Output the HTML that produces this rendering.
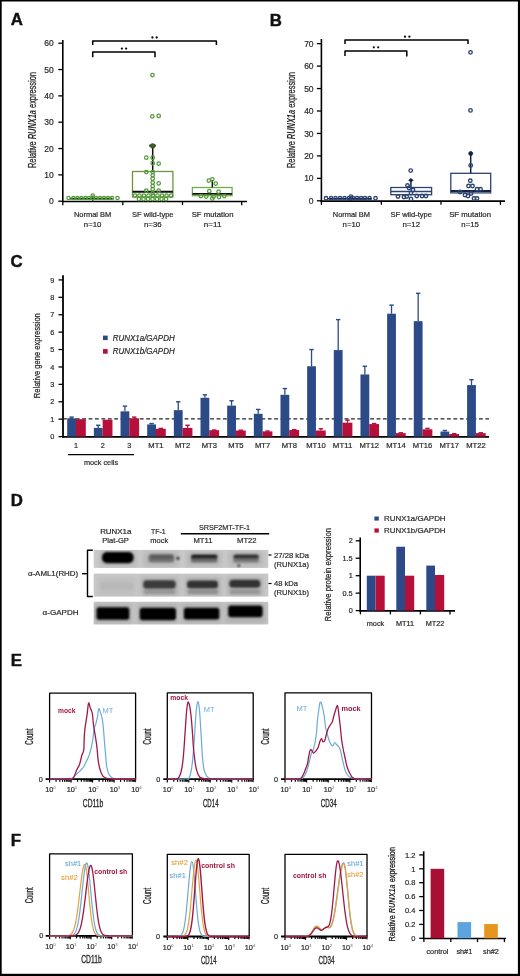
<!DOCTYPE html>
<html><head><meta charset="utf-8"><style>
html,body{margin:0;padding:0;background:#000;}
svg{display:block;font-family:"Liberation Sans",sans-serif;filter:blur(0.35px);}
</style></head><body>
<svg width="520" height="976" viewBox="0 0 520 976">
<rect x="0" y="0" width="520" height="976" fill="#000"/>
<rect x="1.7" y="1.5" width="516.2" height="972.3" fill="#fff"/>
<text x="10.80" y="25.25" font-size="16.8" text-anchor="start" fill="#111" font-weight="bold" font-style="normal" stroke="#111" stroke-width="0.45">A</text>
<text x="269.80" y="25.75" font-size="16.8" text-anchor="start" fill="#111" font-weight="bold" font-style="normal" stroke="#111" stroke-width="0.45">B</text>
<text x="10.60" y="266.75" font-size="16.8" text-anchor="start" fill="#111" font-weight="bold" font-style="normal" stroke="#111" stroke-width="0.45">C</text>
<text x="10.80" y="505.65" font-size="16.8" text-anchor="start" fill="#111" font-weight="bold" font-style="normal" stroke="#111" stroke-width="0.45">D</text>
<text x="10.80" y="666.35" font-size="16.8" text-anchor="start" fill="#111" font-weight="bold" font-style="normal" stroke="#111" stroke-width="0.45">E</text>
<text x="10.80" y="845.75" font-size="16.8" text-anchor="start" fill="#111" font-weight="bold" font-style="normal" stroke="#111" stroke-width="0.45">F</text>
<line x1="62.80" y1="40.00" x2="62.80" y2="202.00" stroke="#000" stroke-width="1.6" />
<line x1="58.30" y1="201.20" x2="62.80" y2="201.20" stroke="#000" stroke-width="1.3" />
<text x="53.80" y="204.26" font-size="8.5" text-anchor="end" fill="#2a2a2a" font-weight="normal" font-style="normal" stroke="#2a2a2a" stroke-width="0.2" >0</text>
<line x1="58.30" y1="174.87" x2="62.80" y2="174.87" stroke="#000" stroke-width="1.3" />
<text x="53.80" y="177.93" font-size="8.5" text-anchor="end" fill="#2a2a2a" font-weight="normal" font-style="normal" stroke="#2a2a2a" stroke-width="0.2" >10</text>
<line x1="58.30" y1="148.54" x2="62.80" y2="148.54" stroke="#000" stroke-width="1.3" />
<text x="53.80" y="151.60" font-size="8.5" text-anchor="end" fill="#2a2a2a" font-weight="normal" font-style="normal" stroke="#2a2a2a" stroke-width="0.2" >20</text>
<line x1="58.30" y1="122.21" x2="62.80" y2="122.21" stroke="#000" stroke-width="1.3" />
<text x="53.80" y="125.27" font-size="8.5" text-anchor="end" fill="#2a2a2a" font-weight="normal" font-style="normal" stroke="#2a2a2a" stroke-width="0.2" >30</text>
<line x1="58.30" y1="95.88" x2="62.80" y2="95.88" stroke="#000" stroke-width="1.3" />
<text x="53.80" y="98.94" font-size="8.5" text-anchor="end" fill="#2a2a2a" font-weight="normal" font-style="normal" stroke="#2a2a2a" stroke-width="0.2" >40</text>
<line x1="58.30" y1="69.55" x2="62.80" y2="69.55" stroke="#000" stroke-width="1.3" />
<text x="53.80" y="72.61" font-size="8.5" text-anchor="end" fill="#2a2a2a" font-weight="normal" font-style="normal" stroke="#2a2a2a" stroke-width="0.2" >50</text>
<line x1="58.30" y1="43.22" x2="62.80" y2="43.22" stroke="#000" stroke-width="1.3" />
<text x="53.80" y="46.28" font-size="8.5" text-anchor="end" fill="#2a2a2a" font-weight="normal" font-style="normal" stroke="#2a2a2a" stroke-width="0.2" >60</text>
<line x1="62.00" y1="201.50" x2="247.00" y2="201.50" stroke="#000" stroke-width="1.7" />
<line x1="62.80" y1="201.20" x2="62.80" y2="205.20" stroke="#000" stroke-width="1.3" />
<line x1="122.80" y1="201.20" x2="122.80" y2="205.20" stroke="#000" stroke-width="1.3" />
<line x1="182.50" y1="201.20" x2="182.50" y2="205.20" stroke="#000" stroke-width="1.3" />
<line x1="241.70" y1="201.20" x2="241.70" y2="205.20" stroke="#000" stroke-width="1.3" />
<text x="92.60" y="217.23" font-size="7.3" text-anchor="middle" fill="#2a2a2a" font-weight="normal" font-style="normal" stroke="#2a2a2a" stroke-width="0.2" textLength="37.3" lengthAdjust="spacingAndGlyphs" >Normal BM</text>
<text x="92.60" y="226.93" font-size="7.3" text-anchor="middle" fill="#2a2a2a" font-weight="normal" font-style="normal" stroke="#2a2a2a" stroke-width="0.2" textLength="17.6" lengthAdjust="spacingAndGlyphs" >n=10</text>
<text x="152.80" y="217.23" font-size="7.3" text-anchor="middle" fill="#2a2a2a" font-weight="normal" font-style="normal" stroke="#2a2a2a" stroke-width="0.2" textLength="41.5" lengthAdjust="spacingAndGlyphs" >SF wild-type</text>
<text x="152.80" y="226.93" font-size="7.3" text-anchor="middle" fill="#2a2a2a" font-weight="normal" font-style="normal" stroke="#2a2a2a" stroke-width="0.2" textLength="17.6" lengthAdjust="spacingAndGlyphs" >n=36</text>
<text x="212.60" y="217.23" font-size="7.3" text-anchor="middle" fill="#2a2a2a" font-weight="normal" font-style="normal" stroke="#2a2a2a" stroke-width="0.2" textLength="41.8" lengthAdjust="spacingAndGlyphs" >SF mutation</text>
<text x="212.60" y="226.93" font-size="7.3" text-anchor="middle" fill="#2a2a2a" font-weight="normal" font-style="normal" stroke="#2a2a2a" stroke-width="0.2" textLength="17.6" lengthAdjust="spacingAndGlyphs" >n=11</text>
<path d="M92.7,45 L92.7,41.1 L216.4,41.1 L216.4,45" fill="none" stroke="#000" stroke-width="1.5" stroke-linejoin="round" />
<path d="M92.7,57.2 L92.7,52 L155,52 L155,57.2" fill="none" stroke="#000" stroke-width="1.5" stroke-linejoin="round" />
<circle cx="152.4" cy="37.5" r="1.15" fill="#111"/><circle cx="156.7" cy="37.5" r="1.15" fill="#111"/>
<circle cx="121.9" cy="48.6" r="1.15" fill="#111"/><circle cx="126.1" cy="48.6" r="1.15" fill="#111"/>
<text transform="translate(35.9 120.1) rotate(-90)" font-size="10" text-anchor="middle" fill="#2a2a2a" stroke="#2a2a2a" stroke-width="0.3" textLength="96" lengthAdjust="spacingAndGlyphs">Relative <tspan font-style="italic" font-weight="bold" stroke-width="0">RUNX1a</tspan> expression</text>
<line x1="70.00" y1="198.60" x2="112.50" y2="198.60" stroke="#1a3010" stroke-width="1.6" />
<line x1="92.75" y1="195.50" x2="92.75" y2="201.00" stroke="#1a3010" stroke-width="1.2" />
<circle cx="68.50" cy="198.00" r="1.7" fill="none" stroke="#559a3a" stroke-width="1.2"/>
<circle cx="73.50" cy="198.00" r="1.7" fill="none" stroke="#559a3a" stroke-width="1.2"/>
<circle cx="77.50" cy="198.00" r="1.7" fill="none" stroke="#559a3a" stroke-width="1.2"/>
<circle cx="81.50" cy="198.00" r="1.7" fill="none" stroke="#559a3a" stroke-width="1.2"/>
<circle cx="85.50" cy="198.00" r="1.7" fill="none" stroke="#559a3a" stroke-width="1.2"/>
<circle cx="89.00" cy="198.00" r="1.7" fill="none" stroke="#559a3a" stroke-width="1.2"/>
<circle cx="92.70" cy="198.00" r="1.7" fill="none" stroke="#559a3a" stroke-width="1.2"/>
<circle cx="96.00" cy="198.00" r="1.7" fill="none" stroke="#559a3a" stroke-width="1.2"/>
<circle cx="100.00" cy="198.00" r="1.7" fill="none" stroke="#559a3a" stroke-width="1.2"/>
<circle cx="104.00" cy="198.00" r="1.7" fill="none" stroke="#559a3a" stroke-width="1.2"/>
<circle cx="108.00" cy="198.00" r="1.7" fill="none" stroke="#559a3a" stroke-width="1.2"/>
<circle cx="112.00" cy="198.00" r="1.7" fill="none" stroke="#559a3a" stroke-width="1.2"/>
<circle cx="117.50" cy="198.00" r="1.7" fill="none" stroke="#559a3a" stroke-width="1.2"/>
<circle cx="92.70" cy="195.50" r="1.7" fill="none" stroke="#559a3a" stroke-width="1.2"/>
<rect x="132.50" y="171.50" width="40.40" height="25.50" fill="none" stroke="#6b963f" stroke-width="1.3" />
<line x1="132.50" y1="191.70" x2="172.90" y2="191.70" stroke="#101010" stroke-width="2.0" />
<line x1="152.70" y1="145.60" x2="152.70" y2="171.50" stroke="#101010" stroke-width="1.5" />
<line x1="149.20" y1="145.60" x2="155.80" y2="145.60" stroke="#101010" stroke-width="1.8" />
<circle cx="152.70" cy="145.80" r="1.9" fill="#3d6a2a" stroke="#2f5520" stroke-width="1.4"/>
<circle cx="152.30" cy="116.40" r="1.75" fill="none" stroke="#559a3a" stroke-width="1.25"/>
<circle cx="158.70" cy="115.90" r="1.75" fill="none" stroke="#559a3a" stroke-width="1.25"/>
<circle cx="152.50" cy="75.00" r="1.75" fill="none" stroke="#559a3a" stroke-width="1.25"/>
<circle cx="146.30" cy="157.70" r="1.75" fill="none" stroke="#559a3a" stroke-width="1.25"/>
<circle cx="152.70" cy="157.70" r="1.75" fill="none" stroke="#559a3a" stroke-width="1.25"/>
<circle cx="152.70" cy="163.20" r="1.75" fill="none" stroke="#559a3a" stroke-width="1.25"/>
<circle cx="158.70" cy="163.50" r="1.75" fill="none" stroke="#559a3a" stroke-width="1.25"/>
<circle cx="146.30" cy="172.00" r="1.75" fill="none" stroke="#559a3a" stroke-width="1.25"/>
<circle cx="152.70" cy="172.00" r="1.75" fill="none" stroke="#559a3a" stroke-width="1.25"/>
<circle cx="152.70" cy="175.20" r="1.75" fill="none" stroke="#559a3a" stroke-width="1.25"/>
<circle cx="152.70" cy="178.70" r="1.75" fill="none" stroke="#559a3a" stroke-width="1.25"/>
<circle cx="152.70" cy="182.50" r="1.75" fill="none" stroke="#559a3a" stroke-width="1.25"/>
<circle cx="158.70" cy="183.30" r="1.75" fill="none" stroke="#559a3a" stroke-width="1.25"/>
<circle cx="152.70" cy="186.00" r="1.75" fill="none" stroke="#559a3a" stroke-width="1.25"/>
<circle cx="152.70" cy="189.00" r="1.75" fill="none" stroke="#559a3a" stroke-width="1.25"/>
<circle cx="146.30" cy="190.50" r="1.75" fill="none" stroke="#559a3a" stroke-width="1.25"/>
<circle cx="158.70" cy="190.50" r="1.75" fill="none" stroke="#559a3a" stroke-width="1.25"/>
<circle cx="135.00" cy="195.50" r="1.75" fill="none" stroke="#559a3a" stroke-width="1.25"/>
<circle cx="139.50" cy="195.50" r="1.75" fill="none" stroke="#559a3a" stroke-width="1.25"/>
<circle cx="144.00" cy="195.50" r="1.75" fill="none" stroke="#559a3a" stroke-width="1.25"/>
<circle cx="148.50" cy="195.50" r="1.75" fill="none" stroke="#559a3a" stroke-width="1.25"/>
<circle cx="153.00" cy="195.50" r="1.75" fill="none" stroke="#559a3a" stroke-width="1.25"/>
<circle cx="157.50" cy="195.50" r="1.75" fill="none" stroke="#559a3a" stroke-width="1.25"/>
<circle cx="162.00" cy="195.50" r="1.75" fill="none" stroke="#559a3a" stroke-width="1.25"/>
<circle cx="166.50" cy="195.50" r="1.75" fill="none" stroke="#559a3a" stroke-width="1.25"/>
<circle cx="171.00" cy="195.50" r="1.75" fill="none" stroke="#559a3a" stroke-width="1.25"/>
<circle cx="139.00" cy="199.00" r="1.75" fill="none" stroke="#559a3a" stroke-width="1.25"/>
<circle cx="143.50" cy="199.00" r="1.75" fill="none" stroke="#559a3a" stroke-width="1.25"/>
<circle cx="148.00" cy="199.00" r="1.75" fill="none" stroke="#559a3a" stroke-width="1.25"/>
<circle cx="152.50" cy="199.00" r="1.75" fill="none" stroke="#559a3a" stroke-width="1.25"/>
<circle cx="157.00" cy="199.00" r="1.75" fill="none" stroke="#559a3a" stroke-width="1.25"/>
<circle cx="161.50" cy="199.00" r="1.75" fill="none" stroke="#559a3a" stroke-width="1.25"/>
<circle cx="166.00" cy="199.00" r="1.75" fill="none" stroke="#559a3a" stroke-width="1.25"/>
<circle cx="152.70" cy="193.00" r="1.75" fill="none" stroke="#559a3a" stroke-width="1.25"/>
<rect x="192.40" y="187.50" width="39.70" height="8.20" fill="none" stroke="#6aae48" stroke-width="1.25" />
<line x1="192.40" y1="193.80" x2="232.10" y2="193.80" stroke="#101010" stroke-width="1.8" />
<line x1="212.30" y1="180.00" x2="212.30" y2="187.50" stroke="#101010" stroke-width="1.4" />
<circle cx="208.80" cy="180.60" r="1.75" fill="none" stroke="#559a3a" stroke-width="1.25"/>
<circle cx="212.30" cy="179.30" r="1.75" fill="none" stroke="#559a3a" stroke-width="1.25"/>
<circle cx="215.70" cy="183.50" r="1.75" fill="none" stroke="#559a3a" stroke-width="1.25"/>
<circle cx="209.30" cy="191.20" r="1.75" fill="none" stroke="#559a3a" stroke-width="1.25"/>
<circle cx="218.60" cy="191.70" r="1.75" fill="none" stroke="#559a3a" stroke-width="1.25"/>
<circle cx="200.90" cy="196.00" r="1.75" fill="none" stroke="#559a3a" stroke-width="1.25"/>
<circle cx="206.20" cy="196.50" r="1.75" fill="none" stroke="#559a3a" stroke-width="1.25"/>
<circle cx="213.60" cy="196.50" r="1.75" fill="none" stroke="#559a3a" stroke-width="1.25"/>
<circle cx="218.90" cy="197.00" r="1.75" fill="none" stroke="#559a3a" stroke-width="1.25"/>
<circle cx="224.20" cy="196.00" r="1.75" fill="none" stroke="#559a3a" stroke-width="1.25"/>
<circle cx="212.30" cy="198.60" r="1.75" fill="none" stroke="#559a3a" stroke-width="1.25"/>
<line x1="321.40" y1="39.00" x2="321.40" y2="201.60" stroke="#000" stroke-width="1.6" />
<line x1="316.90" y1="200.80" x2="321.40" y2="200.80" stroke="#000" stroke-width="1.3" />
<text x="313.60" y="203.86" font-size="8.5" text-anchor="end" fill="#2a2a2a" font-weight="normal" font-style="normal" stroke="#2a2a2a" stroke-width="0.2" >0</text>
<line x1="316.90" y1="178.35" x2="321.40" y2="178.35" stroke="#000" stroke-width="1.3" />
<text x="313.60" y="181.41" font-size="8.5" text-anchor="end" fill="#2a2a2a" font-weight="normal" font-style="normal" stroke="#2a2a2a" stroke-width="0.2" >10</text>
<line x1="316.90" y1="155.90" x2="321.40" y2="155.90" stroke="#000" stroke-width="1.3" />
<text x="313.60" y="158.96" font-size="8.5" text-anchor="end" fill="#2a2a2a" font-weight="normal" font-style="normal" stroke="#2a2a2a" stroke-width="0.2" >20</text>
<line x1="316.90" y1="133.45" x2="321.40" y2="133.45" stroke="#000" stroke-width="1.3" />
<text x="313.60" y="136.51" font-size="8.5" text-anchor="end" fill="#2a2a2a" font-weight="normal" font-style="normal" stroke="#2a2a2a" stroke-width="0.2" >30</text>
<line x1="316.90" y1="111.00" x2="321.40" y2="111.00" stroke="#000" stroke-width="1.3" />
<text x="313.60" y="114.06" font-size="8.5" text-anchor="end" fill="#2a2a2a" font-weight="normal" font-style="normal" stroke="#2a2a2a" stroke-width="0.2" >40</text>
<line x1="316.90" y1="88.55" x2="321.40" y2="88.55" stroke="#000" stroke-width="1.3" />
<text x="313.60" y="91.61" font-size="8.5" text-anchor="end" fill="#2a2a2a" font-weight="normal" font-style="normal" stroke="#2a2a2a" stroke-width="0.2" >50</text>
<line x1="316.90" y1="66.10" x2="321.40" y2="66.10" stroke="#000" stroke-width="1.3" />
<text x="313.60" y="69.16" font-size="8.5" text-anchor="end" fill="#2a2a2a" font-weight="normal" font-style="normal" stroke="#2a2a2a" stroke-width="0.2" >60</text>
<line x1="316.90" y1="43.65" x2="321.40" y2="43.65" stroke="#000" stroke-width="1.3" />
<text x="313.60" y="46.71" font-size="8.5" text-anchor="end" fill="#2a2a2a" font-weight="normal" font-style="normal" stroke="#2a2a2a" stroke-width="0.2" >70</text>
<line x1="320.60" y1="201.20" x2="505.00" y2="201.20" stroke="#000" stroke-width="1.7" />
<line x1="321.40" y1="200.80" x2="321.40" y2="204.80" stroke="#000" stroke-width="1.3" />
<line x1="381.30" y1="200.80" x2="381.30" y2="204.80" stroke="#000" stroke-width="1.3" />
<line x1="441.00" y1="200.80" x2="441.00" y2="204.80" stroke="#000" stroke-width="1.3" />
<line x1="500.40" y1="200.80" x2="500.40" y2="204.80" stroke="#000" stroke-width="1.3" />
<text x="351.40" y="217.23" font-size="7.3" text-anchor="middle" fill="#2a2a2a" font-weight="normal" font-style="normal" stroke="#2a2a2a" stroke-width="0.2" textLength="37.3" lengthAdjust="spacingAndGlyphs" >Normal BM</text>
<text x="351.40" y="226.93" font-size="7.3" text-anchor="middle" fill="#2a2a2a" font-weight="normal" font-style="normal" stroke="#2a2a2a" stroke-width="0.2" textLength="17.6" lengthAdjust="spacingAndGlyphs" >n=10</text>
<text x="411.20" y="217.23" font-size="7.3" text-anchor="middle" fill="#2a2a2a" font-weight="normal" font-style="normal" stroke="#2a2a2a" stroke-width="0.2" textLength="41.5" lengthAdjust="spacingAndGlyphs" >SF wild-type</text>
<text x="411.20" y="226.93" font-size="7.3" text-anchor="middle" fill="#2a2a2a" font-weight="normal" font-style="normal" stroke="#2a2a2a" stroke-width="0.2" textLength="17.6" lengthAdjust="spacingAndGlyphs" >n=12</text>
<text x="470.10" y="217.23" font-size="7.3" text-anchor="middle" fill="#2a2a2a" font-weight="normal" font-style="normal" stroke="#2a2a2a" stroke-width="0.2" textLength="41.8" lengthAdjust="spacingAndGlyphs" >SF mutation</text>
<text x="470.10" y="226.93" font-size="7.3" text-anchor="middle" fill="#2a2a2a" font-weight="normal" font-style="normal" stroke="#2a2a2a" stroke-width="0.2" textLength="17.6" lengthAdjust="spacingAndGlyphs" >n=15</text>
<path d="M345,44 L345,39.9 L468,39.9 L468,44" fill="none" stroke="#000" stroke-width="1.5" stroke-linejoin="round" />
<path d="M345,56 L345,50.9 L406.8,50.9 L406.8,56.5" fill="none" stroke="#000" stroke-width="1.5" stroke-linejoin="round" />
<circle cx="405" cy="36.7" r="1.15" fill="#111"/><circle cx="409.4" cy="36.7" r="1.15" fill="#111"/>
<circle cx="373.8" cy="47.3" r="1.15" fill="#111"/><circle cx="378.2" cy="47.3" r="1.15" fill="#111"/>
<text transform="translate(295.2 120) rotate(-90)" font-size="10" text-anchor="middle" fill="#2a2a2a" stroke="#2a2a2a" stroke-width="0.3" textLength="96" lengthAdjust="spacingAndGlyphs">Relative <tspan font-style="italic" font-weight="bold" stroke-width="0">RUNX1a</tspan> expression</text>
<line x1="328.00" y1="198.80" x2="372.00" y2="198.80" stroke="#15254a" stroke-width="1.6" />
<line x1="351.00" y1="196.00" x2="351.00" y2="201.00" stroke="#15254a" stroke-width="1.2" />
<circle cx="326.00" cy="198.20" r="1.7" fill="none" stroke="#2c4470" stroke-width="1.3"/>
<circle cx="331.00" cy="198.20" r="1.7" fill="none" stroke="#2c4470" stroke-width="1.3"/>
<circle cx="335.50" cy="198.20" r="1.7" fill="none" stroke="#2c4470" stroke-width="1.3"/>
<circle cx="340.00" cy="198.20" r="1.7" fill="none" stroke="#2c4470" stroke-width="1.3"/>
<circle cx="344.50" cy="198.20" r="1.7" fill="none" stroke="#2c4470" stroke-width="1.3"/>
<circle cx="349.00" cy="198.20" r="1.7" fill="none" stroke="#2c4470" stroke-width="1.3"/>
<circle cx="353.00" cy="198.20" r="1.7" fill="none" stroke="#2c4470" stroke-width="1.3"/>
<circle cx="357.00" cy="198.20" r="1.7" fill="none" stroke="#2c4470" stroke-width="1.3"/>
<circle cx="361.00" cy="198.20" r="1.7" fill="none" stroke="#2c4470" stroke-width="1.3"/>
<circle cx="365.00" cy="198.20" r="1.7" fill="none" stroke="#2c4470" stroke-width="1.3"/>
<circle cx="369.50" cy="198.20" r="1.7" fill="none" stroke="#2c4470" stroke-width="1.3"/>
<circle cx="375.50" cy="198.20" r="1.7" fill="none" stroke="#2c4470" stroke-width="1.3"/>
<circle cx="351.00" cy="196.50" r="1.7" fill="none" stroke="#2c4470" stroke-width="1.3"/>
<rect x="390.80" y="187.50" width="40.80" height="7.20" fill="none" stroke="#2c4470" stroke-width="1.3" />
<line x1="390.80" y1="191.60" x2="431.60" y2="191.60" stroke="#2c4470" stroke-width="1.5" />
<line x1="410.90" y1="180.20" x2="410.90" y2="187.50" stroke="#15254a" stroke-width="1.5" />
<path d="M410.9,177.9 L413.6,180.3 L410.9,182.6 L408.2,180.3 Z" fill="#15254a"/>
<circle cx="410.70" cy="170.60" r="1.75" fill="none" stroke="#2c4470" stroke-width="1.35"/>
<circle cx="407.50" cy="185.50" r="1.75" fill="none" stroke="#2c4470" stroke-width="1.35"/>
<circle cx="406.70" cy="196.50" r="1.75" fill="none" stroke="#2c4470" stroke-width="1.35"/>
<circle cx="416.70" cy="196.00" r="1.75" fill="none" stroke="#2c4470" stroke-width="1.35"/>
<circle cx="404.00" cy="197.00" r="1.75" fill="none" stroke="#2c4470" stroke-width="1.35"/>
<circle cx="398.00" cy="196.50" r="1.75" fill="none" stroke="#2c4470" stroke-width="1.35"/>
<circle cx="411.00" cy="193.00" r="1.75" fill="none" stroke="#2c4470" stroke-width="1.35"/>
<circle cx="413.00" cy="190.00" r="1.75" fill="none" stroke="#2c4470" stroke-width="1.35"/>
<circle cx="422.00" cy="196.00" r="1.75" fill="none" stroke="#2c4470" stroke-width="1.35"/>
<circle cx="426.00" cy="196.00" r="1.75" fill="none" stroke="#2c4470" stroke-width="1.35"/>
<circle cx="411.00" cy="199.00" r="1.75" fill="none" stroke="#2c4470" stroke-width="1.35"/>
<circle cx="409.00" cy="188.00" r="1.75" fill="none" stroke="#2c4470" stroke-width="1.35"/>
<rect x="450.80" y="173.30" width="39.90" height="19.60" fill="none" stroke="#2c4470" stroke-width="1.3" />
<line x1="450.80" y1="191.00" x2="490.70" y2="191.00" stroke="#15254a" stroke-width="2.0" />
<line x1="470.70" y1="153.50" x2="470.70" y2="173.30" stroke="#15254a" stroke-width="1.5" />
<circle cx="470.70" cy="153.50" r="1.9" fill="#15254a" stroke="#15254a" stroke-width="1.0"/>
<circle cx="470.50" cy="52.30" r="1.75" fill="none" stroke="#2c4470" stroke-width="1.35"/>
<circle cx="470.50" cy="110.40" r="1.75" fill="none" stroke="#2c4470" stroke-width="1.35"/>
<circle cx="470.70" cy="165.40" r="1.75" fill="none" stroke="#2c4470" stroke-width="1.35"/>
<circle cx="470.30" cy="180.70" r="1.75" fill="none" stroke="#2c4470" stroke-width="1.35"/>
<circle cx="468.50" cy="186.00" r="1.75" fill="none" stroke="#2c4470" stroke-width="1.35"/>
<circle cx="472.50" cy="186.00" r="1.75" fill="none" stroke="#2c4470" stroke-width="1.35"/>
<circle cx="477.00" cy="189.20" r="1.75" fill="none" stroke="#2c4470" stroke-width="1.35"/>
<circle cx="480.50" cy="189.20" r="1.75" fill="none" stroke="#2c4470" stroke-width="1.35"/>
<circle cx="465.00" cy="195.00" r="1.75" fill="none" stroke="#2c4470" stroke-width="1.35"/>
<circle cx="474.00" cy="198.50" r="1.75" fill="none" stroke="#2c4470" stroke-width="1.35"/>
<circle cx="477.00" cy="198.50" r="1.75" fill="none" stroke="#2c4470" stroke-width="1.35"/>
<circle cx="468.00" cy="196.00" r="1.75" fill="none" stroke="#2c4470" stroke-width="1.35"/>
<circle cx="471.00" cy="193.50" r="1.75" fill="none" stroke="#2c4470" stroke-width="1.35"/>
<circle cx="460.00" cy="192.00" r="1.75" fill="none" stroke="#2c4470" stroke-width="1.35"/>
<line x1="63.00" y1="275.20" x2="63.00" y2="437.40" stroke="#000" stroke-width="1.8" />
<line x1="58.50" y1="436.60" x2="63.00" y2="436.60" stroke="#000" stroke-width="1.3" />
<text x="54.20" y="439.23" font-size="7.3" text-anchor="end" fill="#2a2a2a" font-weight="normal" font-style="normal" stroke="#2a2a2a" stroke-width="0.2" >0</text>
<line x1="58.50" y1="419.19" x2="63.00" y2="419.19" stroke="#000" stroke-width="1.3" />
<text x="54.20" y="421.82" font-size="7.3" text-anchor="end" fill="#2a2a2a" font-weight="normal" font-style="normal" stroke="#2a2a2a" stroke-width="0.2" >1</text>
<line x1="58.50" y1="401.78" x2="63.00" y2="401.78" stroke="#000" stroke-width="1.3" />
<text x="54.20" y="404.41" font-size="7.3" text-anchor="end" fill="#2a2a2a" font-weight="normal" font-style="normal" stroke="#2a2a2a" stroke-width="0.2" >2</text>
<line x1="58.50" y1="384.37" x2="63.00" y2="384.37" stroke="#000" stroke-width="1.3" />
<text x="54.20" y="387.00" font-size="7.3" text-anchor="end" fill="#2a2a2a" font-weight="normal" font-style="normal" stroke="#2a2a2a" stroke-width="0.2" >3</text>
<line x1="58.50" y1="366.96" x2="63.00" y2="366.96" stroke="#000" stroke-width="1.3" />
<text x="54.20" y="369.59" font-size="7.3" text-anchor="end" fill="#2a2a2a" font-weight="normal" font-style="normal" stroke="#2a2a2a" stroke-width="0.2" >4</text>
<line x1="58.50" y1="349.55" x2="63.00" y2="349.55" stroke="#000" stroke-width="1.3" />
<text x="54.20" y="352.18" font-size="7.3" text-anchor="end" fill="#2a2a2a" font-weight="normal" font-style="normal" stroke="#2a2a2a" stroke-width="0.2" >5</text>
<line x1="58.50" y1="332.14" x2="63.00" y2="332.14" stroke="#000" stroke-width="1.3" />
<text x="54.20" y="334.77" font-size="7.3" text-anchor="end" fill="#2a2a2a" font-weight="normal" font-style="normal" stroke="#2a2a2a" stroke-width="0.2" >6</text>
<line x1="58.50" y1="314.73" x2="63.00" y2="314.73" stroke="#000" stroke-width="1.3" />
<text x="54.20" y="317.36" font-size="7.3" text-anchor="end" fill="#2a2a2a" font-weight="normal" font-style="normal" stroke="#2a2a2a" stroke-width="0.2" >7</text>
<line x1="58.50" y1="297.32" x2="63.00" y2="297.32" stroke="#000" stroke-width="1.3" />
<text x="54.20" y="299.95" font-size="7.3" text-anchor="end" fill="#2a2a2a" font-weight="normal" font-style="normal" stroke="#2a2a2a" stroke-width="0.2" >8</text>
<line x1="58.50" y1="279.91" x2="63.00" y2="279.91" stroke="#000" stroke-width="1.3" />
<text x="54.20" y="282.54" font-size="7.3" text-anchor="end" fill="#2a2a2a" font-weight="normal" font-style="normal" stroke="#2a2a2a" stroke-width="0.2" >9</text>
<line x1="62.10" y1="436.80" x2="489.00" y2="436.80" stroke="#000" stroke-width="1.8" />
<line x1="63" y1="418.9" x2="489" y2="418.9" stroke="#222" stroke-width="1.3" stroke-dasharray="3.8 2.6"/>
<line x1="71.60" y1="417.10" x2="71.60" y2="418.32" stroke="#2b4a87" stroke-width="1.3" />
<line x1="69.40" y1="417.10" x2="73.80" y2="417.10" stroke="#2b4a87" stroke-width="1.4" />
<rect x="67.20" y="418.32" width="8.80" height="18.28" fill="#2b4a87" stroke="none" stroke-width="1" />
<rect x="76.00" y="419.19" width="9.80" height="17.41" fill="#b5103a" stroke="none" stroke-width="1" />
<text x="76.00" y="447.89" font-size="7.2" text-anchor="middle" fill="#2a2a2a" font-weight="normal" font-style="normal" stroke="#2a2a2a" stroke-width="0.2" >1</text>
<line x1="98.26" y1="425.28" x2="98.26" y2="427.90" stroke="#2b4a87" stroke-width="1.3" />
<line x1="96.06" y1="425.28" x2="100.46" y2="425.28" stroke="#2b4a87" stroke-width="1.4" />
<rect x="93.86" y="427.90" width="8.80" height="8.71" fill="#2b4a87" stroke="none" stroke-width="1" />
<rect x="102.66" y="419.71" width="9.80" height="16.89" fill="#b5103a" stroke="none" stroke-width="1" />
<text x="102.66" y="447.89" font-size="7.2" text-anchor="middle" fill="#2a2a2a" font-weight="normal" font-style="normal" stroke="#2a2a2a" stroke-width="0.2" >2</text>
<line x1="124.92" y1="406.13" x2="124.92" y2="411.36" stroke="#2b4a87" stroke-width="1.3" />
<line x1="122.72" y1="406.13" x2="127.12" y2="406.13" stroke="#2b4a87" stroke-width="1.4" />
<line x1="134.22" y1="417.10" x2="134.22" y2="418.32" stroke="#b5103a" stroke-width="1.3" />
<line x1="132.02" y1="417.10" x2="136.42" y2="417.10" stroke="#b5103a" stroke-width="1.4" />
<rect x="120.52" y="411.36" width="8.80" height="25.24" fill="#2b4a87" stroke="none" stroke-width="1" />
<rect x="129.32" y="418.32" width="9.80" height="18.28" fill="#b5103a" stroke="none" stroke-width="1" />
<text x="129.32" y="447.89" font-size="7.2" text-anchor="middle" fill="#2a2a2a" font-weight="normal" font-style="normal" stroke="#2a2a2a" stroke-width="0.2" >3</text>
<line x1="151.58" y1="423.54" x2="151.58" y2="424.41" stroke="#2b4a87" stroke-width="1.3" />
<line x1="149.38" y1="423.54" x2="153.78" y2="423.54" stroke="#2b4a87" stroke-width="1.4" />
<line x1="160.88" y1="428.42" x2="160.88" y2="428.77" stroke="#b5103a" stroke-width="1.3" />
<line x1="158.68" y1="428.42" x2="163.08" y2="428.42" stroke="#b5103a" stroke-width="1.4" />
<rect x="147.18" y="424.41" width="8.80" height="12.19" fill="#2b4a87" stroke="none" stroke-width="1" />
<rect x="155.98" y="428.77" width="9.80" height="7.83" fill="#b5103a" stroke="none" stroke-width="1" />
<text x="155.98" y="447.89" font-size="7.2" text-anchor="middle" fill="#2a2a2a" font-weight="normal" font-style="normal" stroke="#2a2a2a" stroke-width="0.2" textLength="15.26" lengthAdjust="spacingAndGlyphs" >MT1</text>
<line x1="178.24" y1="401.78" x2="178.24" y2="410.14" stroke="#2b4a87" stroke-width="1.3" />
<line x1="176.04" y1="401.78" x2="180.44" y2="401.78" stroke="#2b4a87" stroke-width="1.4" />
<line x1="187.54" y1="425.28" x2="187.54" y2="427.90" stroke="#b5103a" stroke-width="1.3" />
<line x1="185.34" y1="425.28" x2="189.74" y2="425.28" stroke="#b5103a" stroke-width="1.4" />
<rect x="173.84" y="410.14" width="8.80" height="26.46" fill="#2b4a87" stroke="none" stroke-width="1" />
<rect x="182.64" y="427.90" width="9.80" height="8.71" fill="#b5103a" stroke="none" stroke-width="1" />
<text x="182.64" y="447.89" font-size="7.2" text-anchor="middle" fill="#2a2a2a" font-weight="normal" font-style="normal" stroke="#2a2a2a" stroke-width="0.2" textLength="15.26" lengthAdjust="spacingAndGlyphs" >MT2</text>
<line x1="204.90" y1="394.82" x2="204.90" y2="397.78" stroke="#2b4a87" stroke-width="1.3" />
<line x1="202.70" y1="394.82" x2="207.10" y2="394.82" stroke="#2b4a87" stroke-width="1.4" />
<line x1="214.20" y1="429.98" x2="214.20" y2="430.16" stroke="#b5103a" stroke-width="1.3" />
<line x1="212.00" y1="429.98" x2="216.40" y2="429.98" stroke="#b5103a" stroke-width="1.4" />
<rect x="200.50" y="397.78" width="8.80" height="38.82" fill="#2b4a87" stroke="none" stroke-width="1" />
<rect x="209.30" y="430.16" width="9.80" height="6.44" fill="#b5103a" stroke="none" stroke-width="1" />
<text x="209.30" y="447.89" font-size="7.2" text-anchor="middle" fill="#2a2a2a" font-weight="normal" font-style="normal" stroke="#2a2a2a" stroke-width="0.2" textLength="15.26" lengthAdjust="spacingAndGlyphs" >MT3</text>
<line x1="231.56" y1="400.74" x2="231.56" y2="405.61" stroke="#2b4a87" stroke-width="1.3" />
<line x1="229.36" y1="400.74" x2="233.76" y2="400.74" stroke="#2b4a87" stroke-width="1.4" />
<line x1="240.86" y1="430.16" x2="240.86" y2="430.51" stroke="#b5103a" stroke-width="1.3" />
<line x1="238.66" y1="430.16" x2="243.06" y2="430.16" stroke="#b5103a" stroke-width="1.4" />
<rect x="227.16" y="405.61" width="8.80" height="30.99" fill="#2b4a87" stroke="none" stroke-width="1" />
<rect x="235.96" y="430.51" width="9.80" height="6.09" fill="#b5103a" stroke="none" stroke-width="1" />
<text x="235.96" y="447.89" font-size="7.2" text-anchor="middle" fill="#2a2a2a" font-weight="normal" font-style="normal" stroke="#2a2a2a" stroke-width="0.2" textLength="15.26" lengthAdjust="spacingAndGlyphs" >MT5</text>
<line x1="258.22" y1="409.44" x2="258.22" y2="413.79" stroke="#2b4a87" stroke-width="1.3" />
<line x1="256.02" y1="409.44" x2="260.42" y2="409.44" stroke="#2b4a87" stroke-width="1.4" />
<line x1="267.52" y1="431.03" x2="267.52" y2="431.38" stroke="#b5103a" stroke-width="1.3" />
<line x1="265.32" y1="431.03" x2="269.72" y2="431.03" stroke="#b5103a" stroke-width="1.4" />
<rect x="253.82" y="413.79" width="8.80" height="22.81" fill="#2b4a87" stroke="none" stroke-width="1" />
<rect x="262.62" y="431.38" width="9.80" height="5.22" fill="#b5103a" stroke="none" stroke-width="1" />
<text x="262.62" y="447.89" font-size="7.2" text-anchor="middle" fill="#2a2a2a" font-weight="normal" font-style="normal" stroke="#2a2a2a" stroke-width="0.2" textLength="15.26" lengthAdjust="spacingAndGlyphs" >MT7</text>
<line x1="284.88" y1="388.55" x2="284.88" y2="394.82" stroke="#2b4a87" stroke-width="1.3" />
<line x1="282.68" y1="388.55" x2="287.08" y2="388.55" stroke="#2b4a87" stroke-width="1.4" />
<line x1="294.18" y1="429.64" x2="294.18" y2="429.98" stroke="#b5103a" stroke-width="1.3" />
<line x1="291.98" y1="429.64" x2="296.38" y2="429.64" stroke="#b5103a" stroke-width="1.4" />
<rect x="280.48" y="394.82" width="8.80" height="41.78" fill="#2b4a87" stroke="none" stroke-width="1" />
<rect x="289.28" y="429.98" width="9.80" height="6.62" fill="#b5103a" stroke="none" stroke-width="1" />
<text x="289.28" y="447.89" font-size="7.2" text-anchor="middle" fill="#2a2a2a" font-weight="normal" font-style="normal" stroke="#2a2a2a" stroke-width="0.2" textLength="15.26" lengthAdjust="spacingAndGlyphs" >MT8</text>
<line x1="311.54" y1="349.55" x2="311.54" y2="366.26" stroke="#2b4a87" stroke-width="1.3" />
<line x1="309.34" y1="349.55" x2="313.74" y2="349.55" stroke="#2b4a87" stroke-width="1.4" />
<line x1="320.84" y1="428.77" x2="320.84" y2="430.51" stroke="#b5103a" stroke-width="1.3" />
<line x1="318.64" y1="428.77" x2="323.04" y2="428.77" stroke="#b5103a" stroke-width="1.4" />
<rect x="307.14" y="366.26" width="8.80" height="70.34" fill="#2b4a87" stroke="none" stroke-width="1" />
<rect x="315.94" y="430.51" width="9.80" height="6.09" fill="#b5103a" stroke="none" stroke-width="1" />
<text x="315.94" y="447.89" font-size="7.2" text-anchor="middle" fill="#2a2a2a" font-weight="normal" font-style="normal" stroke="#2a2a2a" stroke-width="0.2" textLength="19.51" lengthAdjust="spacingAndGlyphs" >MT10</text>
<line x1="338.20" y1="319.60" x2="338.20" y2="350.07" stroke="#2b4a87" stroke-width="1.3" />
<line x1="336.00" y1="319.60" x2="340.40" y2="319.60" stroke="#2b4a87" stroke-width="1.4" />
<line x1="347.50" y1="420.06" x2="347.50" y2="422.67" stroke="#b5103a" stroke-width="1.3" />
<line x1="345.30" y1="420.06" x2="349.70" y2="420.06" stroke="#b5103a" stroke-width="1.4" />
<rect x="333.80" y="350.07" width="8.80" height="86.53" fill="#2b4a87" stroke="none" stroke-width="1" />
<rect x="342.60" y="422.67" width="9.80" height="13.93" fill="#b5103a" stroke="none" stroke-width="1" />
<text x="342.60" y="447.89" font-size="7.2" text-anchor="middle" fill="#2a2a2a" font-weight="normal" font-style="normal" stroke="#2a2a2a" stroke-width="0.2" textLength="19.51" lengthAdjust="spacingAndGlyphs" >MT11</text>
<line x1="364.86" y1="366.26" x2="364.86" y2="374.45" stroke="#2b4a87" stroke-width="1.3" />
<line x1="362.66" y1="366.26" x2="367.06" y2="366.26" stroke="#2b4a87" stroke-width="1.4" />
<line x1="374.16" y1="423.54" x2="374.16" y2="424.06" stroke="#b5103a" stroke-width="1.3" />
<line x1="371.96" y1="423.54" x2="376.36" y2="423.54" stroke="#b5103a" stroke-width="1.4" />
<rect x="360.46" y="374.45" width="8.80" height="62.15" fill="#2b4a87" stroke="none" stroke-width="1" />
<rect x="369.26" y="424.06" width="9.80" height="12.54" fill="#b5103a" stroke="none" stroke-width="1" />
<text x="369.26" y="447.89" font-size="7.2" text-anchor="middle" fill="#2a2a2a" font-weight="normal" font-style="normal" stroke="#2a2a2a" stroke-width="0.2" textLength="19.51" lengthAdjust="spacingAndGlyphs" >MT12</text>
<line x1="391.52" y1="305.15" x2="391.52" y2="313.69" stroke="#2b4a87" stroke-width="1.3" />
<line x1="389.32" y1="305.15" x2="393.72" y2="305.15" stroke="#2b4a87" stroke-width="1.4" />
<line x1="400.82" y1="432.77" x2="400.82" y2="433.12" stroke="#b5103a" stroke-width="1.3" />
<line x1="398.62" y1="432.77" x2="403.02" y2="432.77" stroke="#b5103a" stroke-width="1.4" />
<rect x="387.12" y="313.69" width="8.80" height="122.91" fill="#2b4a87" stroke="none" stroke-width="1" />
<rect x="395.92" y="433.12" width="9.80" height="3.48" fill="#b5103a" stroke="none" stroke-width="1" />
<text x="395.92" y="447.89" font-size="7.2" text-anchor="middle" fill="#2a2a2a" font-weight="normal" font-style="normal" stroke="#2a2a2a" stroke-width="0.2" textLength="19.51" lengthAdjust="spacingAndGlyphs" >MT14</text>
<line x1="418.18" y1="293.32" x2="418.18" y2="321.17" stroke="#2b4a87" stroke-width="1.3" />
<line x1="415.98" y1="293.32" x2="420.38" y2="293.32" stroke="#2b4a87" stroke-width="1.4" />
<line x1="427.48" y1="428.42" x2="427.48" y2="429.29" stroke="#b5103a" stroke-width="1.3" />
<line x1="425.28" y1="428.42" x2="429.68" y2="428.42" stroke="#b5103a" stroke-width="1.4" />
<rect x="413.78" y="321.17" width="8.80" height="115.43" fill="#2b4a87" stroke="none" stroke-width="1" />
<rect x="422.58" y="429.29" width="9.80" height="7.31" fill="#b5103a" stroke="none" stroke-width="1" />
<text x="422.58" y="447.89" font-size="7.2" text-anchor="middle" fill="#2a2a2a" font-weight="normal" font-style="normal" stroke="#2a2a2a" stroke-width="0.2" textLength="19.51" lengthAdjust="spacingAndGlyphs" >MT16</text>
<line x1="444.84" y1="430.51" x2="444.84" y2="431.55" stroke="#2b4a87" stroke-width="1.3" />
<line x1="442.64" y1="430.51" x2="447.04" y2="430.51" stroke="#2b4a87" stroke-width="1.4" />
<line x1="454.14" y1="433.64" x2="454.14" y2="433.99" stroke="#b5103a" stroke-width="1.3" />
<line x1="451.94" y1="433.64" x2="456.34" y2="433.64" stroke="#b5103a" stroke-width="1.4" />
<rect x="440.44" y="431.55" width="8.80" height="5.05" fill="#2b4a87" stroke="none" stroke-width="1" />
<rect x="449.24" y="433.99" width="9.80" height="2.61" fill="#b5103a" stroke="none" stroke-width="1" />
<text x="449.24" y="447.89" font-size="7.2" text-anchor="middle" fill="#2a2a2a" font-weight="normal" font-style="normal" stroke="#2a2a2a" stroke-width="0.2" textLength="19.51" lengthAdjust="spacingAndGlyphs" >MT17</text>
<line x1="471.50" y1="379.67" x2="471.50" y2="385.07" stroke="#2b4a87" stroke-width="1.3" />
<line x1="469.30" y1="379.67" x2="473.70" y2="379.67" stroke="#2b4a87" stroke-width="1.4" />
<line x1="480.80" y1="432.77" x2="480.80" y2="433.12" stroke="#b5103a" stroke-width="1.3" />
<line x1="478.60" y1="432.77" x2="483.00" y2="432.77" stroke="#b5103a" stroke-width="1.4" />
<rect x="467.10" y="385.07" width="8.80" height="51.53" fill="#2b4a87" stroke="none" stroke-width="1" />
<rect x="475.90" y="433.12" width="9.80" height="3.48" fill="#b5103a" stroke="none" stroke-width="1" />
<text x="475.90" y="447.89" font-size="7.2" text-anchor="middle" fill="#2a2a2a" font-weight="normal" font-style="normal" stroke="#2a2a2a" stroke-width="0.2" textLength="19.51" lengthAdjust="spacingAndGlyphs" >MT22</text>
<line x1="68.00" y1="454.60" x2="134.00" y2="454.60" stroke="#000" stroke-width="1.4" />
<text x="101.00" y="465.23" font-size="7.3" text-anchor="middle" fill="#2a2a2a" font-weight="normal" font-style="normal" stroke="#2a2a2a" stroke-width="0.2" >mock cells</text>
<text transform="translate(39.8 355.7) rotate(-90)" font-size="8.4" text-anchor="middle" fill="#2a2a2a" stroke="#2a2a2a" stroke-width="0.25" textLength="85" lengthAdjust="spacingAndGlyphs">Relative gene expression</text>
<rect x="103.00" y="335.60" width="4.70" height="4.50" fill="#2b4a87" stroke="none" stroke-width="1" />
<rect x="103.00" y="349.10" width="4.70" height="4.60" fill="#b5103a" stroke="none" stroke-width="1" />
<text x="112.70" y="340.99" font-size="8.3" text-anchor="start" fill="#2a2a2a" font-weight="normal" font-style="italic" stroke="#2a2a2a" stroke-width="0.2" textLength="62" lengthAdjust="spacingAndGlyphs" >RUNX1a/GAPDH</text>
<text x="112.70" y="354.39" font-size="8.3" text-anchor="start" fill="#2a2a2a" font-weight="normal" font-style="italic" stroke="#2a2a2a" stroke-width="0.2" textLength="62" lengthAdjust="spacingAndGlyphs" >RUNX1b/GAPDH</text>
<text x="115.80" y="533.61" font-size="7.8" text-anchor="middle" fill="#2a2a2a" font-weight="normal" font-style="normal" stroke="#2a2a2a" stroke-width="0.2" textLength="31.3" lengthAdjust="spacingAndGlyphs" >RUNX1a</text>
<text x="115.60" y="543.41" font-size="7.8" text-anchor="middle" fill="#2a2a2a" font-weight="normal" font-style="normal" stroke="#2a2a2a" stroke-width="0.2" textLength="26.6" lengthAdjust="spacingAndGlyphs" >Plat-GP</text>
<text x="158.30" y="533.61" font-size="7.8" text-anchor="middle" fill="#2a2a2a" font-weight="normal" font-style="normal" stroke="#2a2a2a" stroke-width="0.2" textLength="14.6" lengthAdjust="spacingAndGlyphs" >TF-1</text>
<text x="159.20" y="543.41" font-size="7.8" text-anchor="middle" fill="#2a2a2a" font-weight="normal" font-style="normal" stroke="#2a2a2a" stroke-width="0.2" textLength="18" lengthAdjust="spacingAndGlyphs" >mock</text>
<text x="224.50" y="530.31" font-size="7.8" text-anchor="middle" fill="#2a2a2a" font-weight="normal" font-style="normal" stroke="#2a2a2a" stroke-width="0.2" textLength="51" lengthAdjust="spacingAndGlyphs" >SRSF2MT-TF-1</text>
<line x1="180.80" y1="533.70" x2="269.20" y2="533.70" stroke="#000" stroke-width="1.5" />
<text x="203.00" y="543.21" font-size="7.8" text-anchor="middle" fill="#2a2a2a" font-weight="normal" font-style="normal" stroke="#2a2a2a" stroke-width="0.2" textLength="19" lengthAdjust="spacingAndGlyphs" >MT11</text>
<text x="246.80" y="543.21" font-size="7.8" text-anchor="middle" fill="#2a2a2a" font-weight="normal" font-style="normal" stroke="#2a2a2a" stroke-width="0.2" textLength="19.6" lengthAdjust="spacingAndGlyphs" >MT22</text>
<defs>
<filter id="bl1" x="-20%" y="-50%" width="140%" height="200%"><feGaussianBlur stdDeviation="1.6 1.2"/></filter>
<filter id="bl2" x="-20%" y="-50%" width="140%" height="200%"><feGaussianBlur stdDeviation="1.0"/></filter>
<filter id="bl3" x="-20%" y="-50%" width="140%" height="200%"><feGaussianBlur stdDeviation="2.2"/></filter>
</defs>
<rect x="93.70" y="549.90" width="174.60" height="18.00" fill="#cacaca" stroke="none" stroke-width="1" />
<rect x="93.70" y="573.60" width="174.60" height="23.00" fill="#c8c8c8" stroke="none" stroke-width="1" />
<rect x="93.70" y="601.80" width="174.60" height="22.60" fill="#c8c8c8" stroke="none" stroke-width="1" />
<clipPath id="cb1"><rect x="93.7" y="549.9" width="174.6" height="18"/><rect x="93.7" y="573.6" width="174.6" height="23"/><rect x="93.7" y="601.8" width="174.6" height="22.6"/></clipPath>
<g clip-path="url(#cb1)"><g filter="url(#bl3)">
<rect x="99" y="551" width="38" height="16" fill="#b9b9b9"/>
<rect x="143" y="551" width="36" height="16" fill="#b9b9b9"/>
<rect x="186" y="551" width="36" height="16" fill="#b9b9b9"/>
<rect x="228" y="551" width="36" height="16" fill="#b9b9b9"/>
<rect x="141" y="577" width="38" height="19" fill="#b3b3b3"/>
<rect x="185" y="577" width="36" height="19" fill="#b3b3b3"/>
<rect x="227" y="577" width="36" height="19" fill="#b3b3b3"/>
<rect x="98" y="577" width="38" height="19" fill="#c0c0c0"/>
<rect x="94" y="603" width="38" height="21" fill="#b4b4b4"/>
<rect x="137" y="603" width="41" height="21" fill="#b4b4b4"/>
<rect x="181" y="603" width="41" height="21" fill="#b4b4b4"/>
<rect x="225" y="603" width="41" height="21" fill="#b4b4b4"/>
</g></g>
<g filter="url(#bl2)">
<rect x="102" y="552" width="31.6" height="11.2" rx="5" fill="#030303"/>
<rect x="148.4" y="554" width="25.9" height="8.5" rx="3.5" fill="#727272"/>
<rect x="150" y="555" width="23" height="4" rx="2" fill="#5a5a5a"/>
<rect x="191" y="554.6" width="26.4" height="5" rx="2.2" fill="#1e1e1e"/>
<rect x="191" y="558.6" width="26.4" height="4" rx="1.5" fill="#6a6a6a"/>
<rect x="233.4" y="554.6" width="25.4" height="4.8" rx="2.2" fill="#2e2e2e"/>
<rect x="233.4" y="558.6" width="25.4" height="4" rx="1.5" fill="#777"/>
<circle cx="177.9" cy="558.3" r="1.4" fill="#000"/>
<circle cx="238.8" cy="565.4" r="1.2" fill="#111"/>
<rect x="100" y="582" width="33" height="8" rx="3" fill="#b8b8b8"/>
<rect x="143.2" y="580.3" width="32.5" height="8.4" rx="3.5" fill="#3a3a3a"/>
<rect x="187" y="580.6" width="31" height="8" rx="3.5" fill="#323232"/>
<rect x="229.3" y="579.8" width="31" height="8" rx="3.5" fill="#323232"/>
<rect x="144" y="589.5" width="31" height="4.5" rx="1.5" fill="#969696"/>
<rect x="188" y="589.5" width="30" height="4.5" rx="1.5" fill="#909090"/>
<rect x="230" y="589.5" width="30" height="4.5" rx="1.5" fill="#949494"/>
<rect x="96.5" y="607.3" width="32.8" height="12.4" rx="2.5" fill="#040404"/>
<rect x="139.7" y="607.8" width="36.3" height="12.4" rx="3" fill="#040404"/>
<rect x="183.9" y="607.8" width="35.4" height="11.8" rx="2.5" fill="#040404"/>
<rect x="228.2" y="605.4" width="34.4" height="11.8" rx="3" fill="#040404"/>
</g>
<path d="M92.8,550.2 L87.5,550.2 L87.5,596.5 L92.8,596.5" fill="none" stroke="#000" stroke-width="1.4" stroke-linejoin="round" />
<line x1="82.00" y1="573.70" x2="87.50" y2="573.70" stroke="#000" stroke-width="1.4" />
<text x="78.20" y="576.47" font-size="7.7" text-anchor="end" fill="#2a2a2a" font-weight="normal" font-style="normal" stroke="#2a2a2a" stroke-width="0.2" textLength="50.3" lengthAdjust="spacingAndGlyphs" >α-AML1(RHD)</text>
<text x="78.60" y="615.47" font-size="7.7" text-anchor="end" fill="#2a2a2a" font-weight="normal" font-style="normal" stroke="#2a2a2a" stroke-width="0.2" textLength="36" lengthAdjust="spacingAndGlyphs" >α-GAPDH</text>
<line x1="268.50" y1="555.00" x2="271.50" y2="555.00" stroke="#000" stroke-width="1.2" />
<text x="274.00" y="558.07" font-size="7.7" text-anchor="start" fill="#2a2a2a" font-weight="normal" font-style="normal" stroke="#2a2a2a" stroke-width="0.2" textLength="35" lengthAdjust="spacingAndGlyphs" >27/28 kDa</text>
<text x="274.00" y="567.37" font-size="7.7" text-anchor="start" fill="#2a2a2a" font-weight="normal" font-style="normal" stroke="#2a2a2a" stroke-width="0.2" textLength="35" lengthAdjust="spacingAndGlyphs" >(RUNX1a)</text>
<line x1="268.50" y1="583.50" x2="271.50" y2="583.50" stroke="#000" stroke-width="1.2" />
<text x="274.00" y="585.97" font-size="7.7" text-anchor="start" fill="#2a2a2a" font-weight="normal" font-style="normal" stroke="#2a2a2a" stroke-width="0.2" textLength="24" lengthAdjust="spacingAndGlyphs" >48 kDa</text>
<text x="274.00" y="595.07" font-size="7.7" text-anchor="start" fill="#2a2a2a" font-weight="normal" font-style="normal" stroke="#2a2a2a" stroke-width="0.2" textLength="35" lengthAdjust="spacingAndGlyphs" >(RUNX1b)</text>
<line x1="360.20" y1="537.50" x2="360.20" y2="611.40" stroke="#000" stroke-width="1.6" />
<line x1="355.70" y1="610.60" x2="360.20" y2="610.60" stroke="#000" stroke-width="1.3" />
<text x="352.70" y="613.23" font-size="7.3" text-anchor="end" fill="#2a2a2a" font-weight="normal" font-style="normal" stroke="#2a2a2a" stroke-width="0.2" >0</text>
<line x1="355.70" y1="593.15" x2="360.20" y2="593.15" stroke="#000" stroke-width="1.3" />
<text x="352.70" y="595.78" font-size="7.3" text-anchor="end" fill="#2a2a2a" font-weight="normal" font-style="normal" stroke="#2a2a2a" stroke-width="0.2" >0.5</text>
<line x1="355.70" y1="575.70" x2="360.20" y2="575.70" stroke="#000" stroke-width="1.3" />
<text x="352.70" y="578.33" font-size="7.3" text-anchor="end" fill="#2a2a2a" font-weight="normal" font-style="normal" stroke="#2a2a2a" stroke-width="0.2" >1</text>
<line x1="355.70" y1="558.25" x2="360.20" y2="558.25" stroke="#000" stroke-width="1.3" />
<text x="352.70" y="560.88" font-size="7.3" text-anchor="end" fill="#2a2a2a" font-weight="normal" font-style="normal" stroke="#2a2a2a" stroke-width="0.2" >1.5</text>
<line x1="355.70" y1="540.80" x2="360.20" y2="540.80" stroke="#000" stroke-width="1.3" />
<text x="352.70" y="543.43" font-size="7.3" text-anchor="end" fill="#2a2a2a" font-weight="normal" font-style="normal" stroke="#2a2a2a" stroke-width="0.2" >2</text>
<line x1="359.40" y1="610.80" x2="455.00" y2="610.80" stroke="#000" stroke-width="1.7" />
<line x1="360.40" y1="610.60" x2="360.40" y2="614.40" stroke="#000" stroke-width="1.3" />
<line x1="390.40" y1="610.60" x2="390.40" y2="614.40" stroke="#000" stroke-width="1.3" />
<line x1="420.40" y1="610.60" x2="420.40" y2="614.40" stroke="#000" stroke-width="1.3" />
<line x1="450.00" y1="610.60" x2="450.00" y2="614.40" stroke="#000" stroke-width="1.3" />
<rect x="366.80" y="575.70" width="8.70" height="34.90" fill="#2b4a87" stroke="none" stroke-width="1" />
<rect x="375.50" y="575.70" width="9.20" height="34.90" fill="#b5103a" stroke="none" stroke-width="1" />
<text x="375.50" y="626.43" font-size="7.3" text-anchor="middle" fill="#2a2a2a" font-weight="normal" font-style="normal" stroke="#2a2a2a" stroke-width="0.2" >mock</text>
<rect x="396.30" y="546.73" width="8.70" height="63.87" fill="#2b4a87" stroke="none" stroke-width="1" />
<rect x="405.00" y="575.70" width="9.20" height="34.90" fill="#b5103a" stroke="none" stroke-width="1" />
<text x="405.00" y="626.43" font-size="7.3" text-anchor="middle" fill="#2a2a2a" font-weight="normal" font-style="normal" stroke="#2a2a2a" stroke-width="0.2" >MT11</text>
<rect x="426.30" y="565.58" width="8.70" height="45.02" fill="#2b4a87" stroke="none" stroke-width="1" />
<rect x="435.00" y="575.00" width="9.20" height="35.60" fill="#b5103a" stroke="none" stroke-width="1" />
<text x="435.00" y="626.43" font-size="7.3" text-anchor="middle" fill="#2a2a2a" font-weight="normal" font-style="normal" stroke="#2a2a2a" stroke-width="0.2" >MT22</text>
<text transform="translate(331.4 574.7) rotate(-90)" font-size="8.8" text-anchor="middle" fill="#2a2a2a" stroke="#2a2a2a" stroke-width="0.25" textLength="93.5" lengthAdjust="spacingAndGlyphs">Relative protein expression</text>
<rect x="374.40" y="516.50" width="4.40" height="4.10" fill="#2b4a87" stroke="none" stroke-width="1" />
<rect x="374.40" y="528.40" width="4.40" height="4.20" fill="#b5103a" stroke="none" stroke-width="1" />
<text x="384.00" y="521.41" font-size="7.8" text-anchor="start" fill="#2a2a2a" font-weight="normal" font-style="normal" stroke="#2a2a2a" stroke-width="0.2" textLength="61.6" lengthAdjust="spacingAndGlyphs" >RUNX1a/GAPDH</text>
<text x="384.00" y="533.31" font-size="7.8" text-anchor="start" fill="#2a2a2a" font-weight="normal" font-style="normal" stroke="#2a2a2a" stroke-width="0.2" textLength="61.6" lengthAdjust="spacingAndGlyphs" >RUNX1b/GAPDH</text>
<path d="M49.6,779.2 L49.6,693.2 L135.6,693.2 L135.6,779.2" fill="none" stroke="#000" stroke-width="1.3" stroke-linejoin="round" />
<line x1="45.60" y1="779.20" x2="136.10" y2="779.20" stroke="#000" stroke-width="1.8" />
<line x1="49.60" y1="779.20" x2="49.60" y2="782.60" stroke="#000" stroke-width="1.2" />
<line x1="56.07" y1="779.20" x2="56.07" y2="781.80" stroke="#000" stroke-width="1.2" />
<line x1="59.86" y1="779.20" x2="59.86" y2="781.80" stroke="#000" stroke-width="1.2" />
<line x1="62.54" y1="779.20" x2="62.54" y2="781.80" stroke="#000" stroke-width="1.2" />
<line x1="64.63" y1="779.20" x2="64.63" y2="781.80" stroke="#000" stroke-width="1.2" />
<line x1="66.33" y1="779.20" x2="66.33" y2="781.80" stroke="#000" stroke-width="1.2" />
<line x1="67.77" y1="779.20" x2="67.77" y2="781.80" stroke="#000" stroke-width="1.2" />
<line x1="69.02" y1="779.20" x2="69.02" y2="781.80" stroke="#000" stroke-width="1.2" />
<line x1="70.12" y1="779.20" x2="70.12" y2="781.80" stroke="#000" stroke-width="1.2" />
<line x1="71.10" y1="779.20" x2="71.10" y2="782.60" stroke="#000" stroke-width="1.2" />
<line x1="77.57" y1="779.20" x2="77.57" y2="781.80" stroke="#000" stroke-width="1.2" />
<line x1="81.36" y1="779.20" x2="81.36" y2="781.80" stroke="#000" stroke-width="1.2" />
<line x1="84.04" y1="779.20" x2="84.04" y2="781.80" stroke="#000" stroke-width="1.2" />
<line x1="86.13" y1="779.20" x2="86.13" y2="781.80" stroke="#000" stroke-width="1.2" />
<line x1="87.83" y1="779.20" x2="87.83" y2="781.80" stroke="#000" stroke-width="1.2" />
<line x1="89.27" y1="779.20" x2="89.27" y2="781.80" stroke="#000" stroke-width="1.2" />
<line x1="90.52" y1="779.20" x2="90.52" y2="781.80" stroke="#000" stroke-width="1.2" />
<line x1="91.62" y1="779.20" x2="91.62" y2="781.80" stroke="#000" stroke-width="1.2" />
<line x1="92.60" y1="779.20" x2="92.60" y2="782.60" stroke="#000" stroke-width="1.2" />
<line x1="99.07" y1="779.20" x2="99.07" y2="781.80" stroke="#000" stroke-width="1.2" />
<line x1="102.86" y1="779.20" x2="102.86" y2="781.80" stroke="#000" stroke-width="1.2" />
<line x1="105.54" y1="779.20" x2="105.54" y2="781.80" stroke="#000" stroke-width="1.2" />
<line x1="107.63" y1="779.20" x2="107.63" y2="781.80" stroke="#000" stroke-width="1.2" />
<line x1="109.33" y1="779.20" x2="109.33" y2="781.80" stroke="#000" stroke-width="1.2" />
<line x1="110.77" y1="779.20" x2="110.77" y2="781.80" stroke="#000" stroke-width="1.2" />
<line x1="112.02" y1="779.20" x2="112.02" y2="781.80" stroke="#000" stroke-width="1.2" />
<line x1="113.12" y1="779.20" x2="113.12" y2="781.80" stroke="#000" stroke-width="1.2" />
<line x1="114.10" y1="779.20" x2="114.10" y2="782.60" stroke="#000" stroke-width="1.2" />
<line x1="120.57" y1="779.20" x2="120.57" y2="781.80" stroke="#000" stroke-width="1.2" />
<line x1="124.36" y1="779.20" x2="124.36" y2="781.80" stroke="#000" stroke-width="1.2" />
<line x1="127.04" y1="779.20" x2="127.04" y2="781.80" stroke="#000" stroke-width="1.2" />
<line x1="129.13" y1="779.20" x2="129.13" y2="781.80" stroke="#000" stroke-width="1.2" />
<line x1="130.83" y1="779.20" x2="130.83" y2="781.80" stroke="#000" stroke-width="1.2" />
<line x1="132.27" y1="779.20" x2="132.27" y2="781.80" stroke="#000" stroke-width="1.2" />
<line x1="133.52" y1="779.20" x2="133.52" y2="781.80" stroke="#000" stroke-width="1.2" />
<line x1="134.62" y1="779.20" x2="134.62" y2="781.80" stroke="#000" stroke-width="1.2" />
<line x1="135.60" y1="779.20" x2="135.60" y2="782.20" stroke="#000" stroke-width="0.9" />
<text x="50.40" y="792.40" font-size="7.3" text-anchor="middle" fill="#2a2a2a" stroke="#2a2a2a" stroke-width="0.2">10<tspan font-size="4.3" dy="-3.2" stroke-width="0" fill="#555">0</tspan></text>
<text x="71.90" y="792.40" font-size="7.3" text-anchor="middle" fill="#2a2a2a" stroke="#2a2a2a" stroke-width="0.2">10<tspan font-size="4.3" dy="-3.2" stroke-width="0" fill="#555">1</tspan></text>
<text x="93.40" y="792.40" font-size="7.3" text-anchor="middle" fill="#2a2a2a" stroke="#2a2a2a" stroke-width="0.2">10<tspan font-size="4.3" dy="-3.2" stroke-width="0" fill="#555">2</tspan></text>
<text x="114.90" y="792.40" font-size="7.3" text-anchor="middle" fill="#2a2a2a" stroke="#2a2a2a" stroke-width="0.2">10<tspan font-size="4.3" dy="-3.2" stroke-width="0" fill="#555">3</tspan></text>
<text x="136.40" y="792.40" font-size="7.3" text-anchor="middle" fill="#2a2a2a" stroke="#2a2a2a" stroke-width="0.2">10<tspan font-size="4.3" dy="-3.2" stroke-width="0" fill="#555">4</tspan></text>
<text x="40.80" y="781.83" font-size="7.3" text-anchor="middle" fill="#2a2a2a" font-weight="normal" font-style="normal" stroke="#2a2a2a" stroke-width="0.2" >0</text>
<text transform="translate(33.40 736.70) rotate(-90)" font-size="10.8" text-anchor="middle" fill="#2a2a2a" stroke="#2a2a2a" stroke-width="0.35" textLength="16" lengthAdjust="spacingAndGlyphs">Count</text>
<text x="93.10" y="806.80" font-size="11" text-anchor="middle" fill="#2a2a2a" stroke="#2a2a2a" stroke-width="0.35" textLength="20.5" lengthAdjust="spacingAndGlyphs">CD11b</text>
<path d="M49.60,779.00 C52.67,779.00 64.35,779.05 68.00,779.00 C71.65,778.95 69.95,779.62 71.50,778.70 C73.05,777.78 75.37,775.33 77.30,773.50 C79.23,771.67 81.65,769.63 83.10,767.70 C84.55,765.77 85.05,763.82 86.00,761.90 C86.95,759.98 87.93,758.50 88.80,756.20 C89.67,753.90 90.52,751.00 91.20,748.10 C91.88,745.20 92.43,741.88 92.90,738.80 C93.37,735.72 93.52,732.10 94.00,729.60 C94.48,727.10 95.22,725.92 95.80,723.80 C96.38,721.68 97.02,719.40 97.50,716.90 C97.98,714.40 98.22,709.57 98.70,708.80 C99.18,708.03 99.83,710.75 100.40,712.30 C100.97,713.85 101.62,715.60 102.10,718.10 C102.58,720.60 102.92,723.45 103.30,727.30 C103.68,731.15 104.02,736.58 104.40,741.20 C104.78,745.82 105.22,750.78 105.60,755.00 C105.98,759.22 106.13,763.23 106.70,766.50 C107.27,769.77 108.13,772.77 109.00,774.60 C109.87,776.43 111.03,776.82 111.90,777.50 C112.77,778.18 113.35,778.45 114.20,778.70 C115.05,778.95 113.47,778.95 117.00,779.00 C120.53,779.05 132.33,779.00 135.40,779.00" fill="none" stroke="#6aaad8" stroke-width="1.2" stroke-linejoin="round" />
<path d="M49.60,779.00 C53.00,779.00 66.05,779.17 70.00,779.00 C73.95,778.83 72.18,779.50 73.30,778.00 C74.42,776.50 75.65,772.30 76.70,770.00 C77.75,767.70 78.73,766.70 79.60,764.20 C80.47,761.70 81.22,757.30 81.90,755.00 C82.58,752.70 83.32,753.10 83.70,750.40 C84.08,747.70 84.02,742.27 84.20,738.80 C84.38,735.33 84.50,732.48 84.80,729.60 C85.10,726.72 85.62,724.00 86.00,721.50 C86.38,719.00 86.67,717.67 87.10,714.60 C87.53,711.53 88.08,704.25 88.60,703.10 C89.12,701.95 89.58,705.97 90.20,707.70 C90.82,709.43 91.75,710.62 92.30,713.50 C92.85,716.38 93.02,721.35 93.50,725.00 C93.98,728.65 94.63,731.75 95.20,735.40 C95.77,739.05 96.42,742.87 96.90,746.90 C97.38,750.93 97.62,755.95 98.10,759.60 C98.58,763.25 99.03,766.10 99.80,768.80 C100.57,771.50 101.63,774.27 102.70,775.80 C103.77,777.33 105.05,777.52 106.20,778.00 C107.35,778.48 108.63,778.53 109.60,778.70 C110.57,778.87 107.70,778.95 112.00,779.00 C116.30,779.05 131.50,779.00 135.40,779.00" fill="none" stroke="#a01848" stroke-width="1.3" stroke-linejoin="round" />
<text x="66.70" y="713.33" font-size="7.3" text-anchor="middle" fill="#a0143c" font-weight="bold" font-style="normal" textLength="17.4" lengthAdjust="spacingAndGlyphs" >mock</text>
<text x="108.00" y="712.70" font-size="7.5" text-anchor="middle" fill="#6aaad8" font-weight="normal" font-style="normal" textLength="10.9" lengthAdjust="spacingAndGlyphs" >MT</text>
<path d="M167.3,779.2 L167.3,692.8 L253.2,692.8 L253.2,779.2" fill="none" stroke="#000" stroke-width="1.3" stroke-linejoin="round" />
<line x1="163.30" y1="779.20" x2="253.70" y2="779.20" stroke="#000" stroke-width="1.8" />
<line x1="167.30" y1="779.20" x2="167.30" y2="782.60" stroke="#000" stroke-width="1.2" />
<line x1="173.76" y1="779.20" x2="173.76" y2="781.80" stroke="#000" stroke-width="1.2" />
<line x1="177.55" y1="779.20" x2="177.55" y2="781.80" stroke="#000" stroke-width="1.2" />
<line x1="180.23" y1="779.20" x2="180.23" y2="781.80" stroke="#000" stroke-width="1.2" />
<line x1="182.31" y1="779.20" x2="182.31" y2="781.80" stroke="#000" stroke-width="1.2" />
<line x1="184.01" y1="779.20" x2="184.01" y2="781.80" stroke="#000" stroke-width="1.2" />
<line x1="185.45" y1="779.20" x2="185.45" y2="781.80" stroke="#000" stroke-width="1.2" />
<line x1="186.69" y1="779.20" x2="186.69" y2="781.80" stroke="#000" stroke-width="1.2" />
<line x1="187.79" y1="779.20" x2="187.79" y2="781.80" stroke="#000" stroke-width="1.2" />
<line x1="188.78" y1="779.20" x2="188.78" y2="782.60" stroke="#000" stroke-width="1.2" />
<line x1="195.24" y1="779.20" x2="195.24" y2="781.80" stroke="#000" stroke-width="1.2" />
<line x1="199.02" y1="779.20" x2="199.02" y2="781.80" stroke="#000" stroke-width="1.2" />
<line x1="201.70" y1="779.20" x2="201.70" y2="781.80" stroke="#000" stroke-width="1.2" />
<line x1="203.79" y1="779.20" x2="203.79" y2="781.80" stroke="#000" stroke-width="1.2" />
<line x1="205.49" y1="779.20" x2="205.49" y2="781.80" stroke="#000" stroke-width="1.2" />
<line x1="206.92" y1="779.20" x2="206.92" y2="781.80" stroke="#000" stroke-width="1.2" />
<line x1="208.17" y1="779.20" x2="208.17" y2="781.80" stroke="#000" stroke-width="1.2" />
<line x1="209.27" y1="779.20" x2="209.27" y2="781.80" stroke="#000" stroke-width="1.2" />
<line x1="210.25" y1="779.20" x2="210.25" y2="782.60" stroke="#000" stroke-width="1.2" />
<line x1="216.71" y1="779.20" x2="216.71" y2="781.80" stroke="#000" stroke-width="1.2" />
<line x1="220.50" y1="779.20" x2="220.50" y2="781.80" stroke="#000" stroke-width="1.2" />
<line x1="223.18" y1="779.20" x2="223.18" y2="781.80" stroke="#000" stroke-width="1.2" />
<line x1="225.26" y1="779.20" x2="225.26" y2="781.80" stroke="#000" stroke-width="1.2" />
<line x1="226.96" y1="779.20" x2="226.96" y2="781.80" stroke="#000" stroke-width="1.2" />
<line x1="228.40" y1="779.20" x2="228.40" y2="781.80" stroke="#000" stroke-width="1.2" />
<line x1="229.64" y1="779.20" x2="229.64" y2="781.80" stroke="#000" stroke-width="1.2" />
<line x1="230.74" y1="779.20" x2="230.74" y2="781.80" stroke="#000" stroke-width="1.2" />
<line x1="231.72" y1="779.20" x2="231.72" y2="782.60" stroke="#000" stroke-width="1.2" />
<line x1="238.19" y1="779.20" x2="238.19" y2="781.80" stroke="#000" stroke-width="1.2" />
<line x1="241.97" y1="779.20" x2="241.97" y2="781.80" stroke="#000" stroke-width="1.2" />
<line x1="244.65" y1="779.20" x2="244.65" y2="781.80" stroke="#000" stroke-width="1.2" />
<line x1="246.74" y1="779.20" x2="246.74" y2="781.80" stroke="#000" stroke-width="1.2" />
<line x1="248.44" y1="779.20" x2="248.44" y2="781.80" stroke="#000" stroke-width="1.2" />
<line x1="249.87" y1="779.20" x2="249.87" y2="781.80" stroke="#000" stroke-width="1.2" />
<line x1="251.12" y1="779.20" x2="251.12" y2="781.80" stroke="#000" stroke-width="1.2" />
<line x1="252.22" y1="779.20" x2="252.22" y2="781.80" stroke="#000" stroke-width="1.2" />
<line x1="253.20" y1="779.20" x2="253.20" y2="782.20" stroke="#000" stroke-width="0.9" />
<text x="168.10" y="792.40" font-size="7.3" text-anchor="middle" fill="#2a2a2a" stroke="#2a2a2a" stroke-width="0.2">10<tspan font-size="4.3" dy="-3.2" stroke-width="0" fill="#555">0</tspan></text>
<text x="189.58" y="792.40" font-size="7.3" text-anchor="middle" fill="#2a2a2a" stroke="#2a2a2a" stroke-width="0.2">10<tspan font-size="4.3" dy="-3.2" stroke-width="0" fill="#555">1</tspan></text>
<text x="211.05" y="792.40" font-size="7.3" text-anchor="middle" fill="#2a2a2a" stroke="#2a2a2a" stroke-width="0.2">10<tspan font-size="4.3" dy="-3.2" stroke-width="0" fill="#555">2</tspan></text>
<text x="232.53" y="792.40" font-size="7.3" text-anchor="middle" fill="#2a2a2a" stroke="#2a2a2a" stroke-width="0.2">10<tspan font-size="4.3" dy="-3.2" stroke-width="0" fill="#555">3</tspan></text>
<text x="254.00" y="792.40" font-size="7.3" text-anchor="middle" fill="#2a2a2a" stroke="#2a2a2a" stroke-width="0.2">10<tspan font-size="4.3" dy="-3.2" stroke-width="0" fill="#555">4</tspan></text>
<text x="158.30" y="781.83" font-size="7.3" text-anchor="middle" fill="#2a2a2a" font-weight="normal" font-style="normal" stroke="#2a2a2a" stroke-width="0.2" >0</text>
<text transform="translate(151.20 736.50) rotate(-90)" font-size="10.8" text-anchor="middle" fill="#2a2a2a" stroke="#2a2a2a" stroke-width="0.35" textLength="16" lengthAdjust="spacingAndGlyphs">Count</text>
<text x="210.75" y="806.80" font-size="11" text-anchor="middle" fill="#2a2a2a" stroke="#2a2a2a" stroke-width="0.35" textLength="15.6" lengthAdjust="spacingAndGlyphs">CD14</text>
<path d="M167.30,779.00 C170.42,779.00 182.40,779.12 186.00,779.00 C189.60,778.88 188.03,779.67 188.90,778.30 C189.77,776.93 190.53,774.28 191.20,770.80 C191.87,767.32 192.38,762.60 192.90,757.40 C193.42,752.20 193.88,745.55 194.30,739.60 C194.72,733.65 195.03,726.90 195.40,721.70 C195.77,716.50 196.10,711.73 196.50,708.40 C196.90,705.07 197.35,701.85 197.80,701.70 C198.25,701.55 198.78,704.17 199.20,707.50 C199.62,710.83 199.93,716.35 200.30,721.70 C200.67,727.05 201.03,733.65 201.40,739.60 C201.77,745.55 202.05,752.35 202.50,757.40 C202.95,762.45 203.38,766.78 204.10,769.90 C204.82,773.02 205.92,774.70 206.80,776.10 C207.68,777.50 208.53,777.82 209.40,778.30 C210.27,778.78 204.73,778.88 212.00,779.00 C219.27,779.12 246.17,779.00 253.00,779.00" fill="none" stroke="#6aaad8" stroke-width="1.2" stroke-linejoin="round" />
<path d="M167.30,779.00 C168.58,779.00 173.18,779.12 175.00,779.00 C176.82,778.88 177.22,779.38 178.20,778.30 C179.18,777.22 180.15,775.10 180.90,772.50 C181.65,769.90 182.18,766.70 182.70,762.70 C183.22,758.70 183.63,753.10 184.00,748.50 C184.37,743.90 184.60,739.57 184.90,735.10 C185.20,730.63 185.50,725.85 185.80,721.70 C186.10,717.55 186.33,713.47 186.70,710.20 C187.07,706.93 187.48,702.70 188.00,702.10 C188.52,701.50 189.27,704.07 189.80,706.60 C190.33,709.13 190.78,713.30 191.20,717.30 C191.62,721.30 191.93,725.70 192.30,730.60 C192.67,735.50 193.00,741.93 193.40,746.70 C193.80,751.47 194.18,755.33 194.70,759.20 C195.22,763.07 195.68,766.93 196.50,769.90 C197.32,772.87 198.48,775.60 199.60,777.00 C200.72,778.40 202.13,777.97 203.20,778.30 C204.27,778.63 197.70,778.88 206.00,779.00 C214.30,779.12 245.17,779.00 253.00,779.00" fill="none" stroke="#a01848" stroke-width="1.3" stroke-linejoin="round" />
<text x="179.10" y="699.93" font-size="7.3" text-anchor="middle" fill="#a0143c" font-weight="bold" font-style="normal" textLength="17.7" lengthAdjust="spacingAndGlyphs" >mock</text>
<text x="209.20" y="711.50" font-size="7.5" text-anchor="middle" fill="#6aaad8" font-weight="normal" font-style="normal" textLength="10.8" lengthAdjust="spacingAndGlyphs" >MT</text>
<path d="M285,779.2 L285,692.8 L371.5,692.8 L371.5,779.2" fill="none" stroke="#000" stroke-width="1.3" stroke-linejoin="round" />
<line x1="281.00" y1="779.20" x2="372.00" y2="779.20" stroke="#000" stroke-width="1.8" />
<line x1="285.00" y1="779.20" x2="285.00" y2="782.60" stroke="#000" stroke-width="1.2" />
<line x1="291.51" y1="779.20" x2="291.51" y2="781.80" stroke="#000" stroke-width="1.2" />
<line x1="295.32" y1="779.20" x2="295.32" y2="781.80" stroke="#000" stroke-width="1.2" />
<line x1="298.02" y1="779.20" x2="298.02" y2="781.80" stroke="#000" stroke-width="1.2" />
<line x1="300.12" y1="779.20" x2="300.12" y2="781.80" stroke="#000" stroke-width="1.2" />
<line x1="301.83" y1="779.20" x2="301.83" y2="781.80" stroke="#000" stroke-width="1.2" />
<line x1="303.28" y1="779.20" x2="303.28" y2="781.80" stroke="#000" stroke-width="1.2" />
<line x1="304.53" y1="779.20" x2="304.53" y2="781.80" stroke="#000" stroke-width="1.2" />
<line x1="305.64" y1="779.20" x2="305.64" y2="781.80" stroke="#000" stroke-width="1.2" />
<line x1="306.62" y1="779.20" x2="306.62" y2="782.60" stroke="#000" stroke-width="1.2" />
<line x1="313.13" y1="779.20" x2="313.13" y2="781.80" stroke="#000" stroke-width="1.2" />
<line x1="316.94" y1="779.20" x2="316.94" y2="781.80" stroke="#000" stroke-width="1.2" />
<line x1="319.64" y1="779.20" x2="319.64" y2="781.80" stroke="#000" stroke-width="1.2" />
<line x1="321.74" y1="779.20" x2="321.74" y2="781.80" stroke="#000" stroke-width="1.2" />
<line x1="323.45" y1="779.20" x2="323.45" y2="781.80" stroke="#000" stroke-width="1.2" />
<line x1="324.90" y1="779.20" x2="324.90" y2="781.80" stroke="#000" stroke-width="1.2" />
<line x1="326.15" y1="779.20" x2="326.15" y2="781.80" stroke="#000" stroke-width="1.2" />
<line x1="327.26" y1="779.20" x2="327.26" y2="781.80" stroke="#000" stroke-width="1.2" />
<line x1="328.25" y1="779.20" x2="328.25" y2="782.60" stroke="#000" stroke-width="1.2" />
<line x1="334.76" y1="779.20" x2="334.76" y2="781.80" stroke="#000" stroke-width="1.2" />
<line x1="338.57" y1="779.20" x2="338.57" y2="781.80" stroke="#000" stroke-width="1.2" />
<line x1="341.27" y1="779.20" x2="341.27" y2="781.80" stroke="#000" stroke-width="1.2" />
<line x1="343.37" y1="779.20" x2="343.37" y2="781.80" stroke="#000" stroke-width="1.2" />
<line x1="345.08" y1="779.20" x2="345.08" y2="781.80" stroke="#000" stroke-width="1.2" />
<line x1="346.53" y1="779.20" x2="346.53" y2="781.80" stroke="#000" stroke-width="1.2" />
<line x1="347.78" y1="779.20" x2="347.78" y2="781.80" stroke="#000" stroke-width="1.2" />
<line x1="348.89" y1="779.20" x2="348.89" y2="781.80" stroke="#000" stroke-width="1.2" />
<line x1="349.88" y1="779.20" x2="349.88" y2="782.60" stroke="#000" stroke-width="1.2" />
<line x1="356.38" y1="779.20" x2="356.38" y2="781.80" stroke="#000" stroke-width="1.2" />
<line x1="360.19" y1="779.20" x2="360.19" y2="781.80" stroke="#000" stroke-width="1.2" />
<line x1="362.89" y1="779.20" x2="362.89" y2="781.80" stroke="#000" stroke-width="1.2" />
<line x1="364.99" y1="779.20" x2="364.99" y2="781.80" stroke="#000" stroke-width="1.2" />
<line x1="366.70" y1="779.20" x2="366.70" y2="781.80" stroke="#000" stroke-width="1.2" />
<line x1="368.15" y1="779.20" x2="368.15" y2="781.80" stroke="#000" stroke-width="1.2" />
<line x1="369.40" y1="779.20" x2="369.40" y2="781.80" stroke="#000" stroke-width="1.2" />
<line x1="370.51" y1="779.20" x2="370.51" y2="781.80" stroke="#000" stroke-width="1.2" />
<line x1="371.50" y1="779.20" x2="371.50" y2="782.20" stroke="#000" stroke-width="0.9" />
<text x="285.80" y="792.40" font-size="7.3" text-anchor="middle" fill="#2a2a2a" stroke="#2a2a2a" stroke-width="0.2">10<tspan font-size="4.3" dy="-3.2" stroke-width="0" fill="#555">0</tspan></text>
<text x="307.43" y="792.40" font-size="7.3" text-anchor="middle" fill="#2a2a2a" stroke="#2a2a2a" stroke-width="0.2">10<tspan font-size="4.3" dy="-3.2" stroke-width="0" fill="#555">1</tspan></text>
<text x="329.05" y="792.40" font-size="7.3" text-anchor="middle" fill="#2a2a2a" stroke="#2a2a2a" stroke-width="0.2">10<tspan font-size="4.3" dy="-3.2" stroke-width="0" fill="#555">2</tspan></text>
<text x="350.68" y="792.40" font-size="7.3" text-anchor="middle" fill="#2a2a2a" stroke="#2a2a2a" stroke-width="0.2">10<tspan font-size="4.3" dy="-3.2" stroke-width="0" fill="#555">3</tspan></text>
<text x="372.30" y="792.40" font-size="7.3" text-anchor="middle" fill="#2a2a2a" stroke="#2a2a2a" stroke-width="0.2">10<tspan font-size="4.3" dy="-3.2" stroke-width="0" fill="#555">4</tspan></text>
<text x="276.00" y="781.83" font-size="7.3" text-anchor="middle" fill="#2a2a2a" font-weight="normal" font-style="normal" stroke="#2a2a2a" stroke-width="0.2" >0</text>
<text transform="translate(268.90 736.50) rotate(-90)" font-size="10.8" text-anchor="middle" fill="#2a2a2a" stroke="#2a2a2a" stroke-width="0.35" textLength="16" lengthAdjust="spacingAndGlyphs">Count</text>
<text x="328.75" y="806.80" font-size="11" text-anchor="middle" fill="#2a2a2a" stroke="#2a2a2a" stroke-width="0.35" textLength="16" lengthAdjust="spacingAndGlyphs">CD34</text>
<path d="M285.00,779.00 C287.33,779.00 296.08,779.15 299.00,779.00 C301.92,778.85 301.50,778.77 302.50,778.10 C303.50,777.43 304.17,776.56 305.00,775.00 C305.83,773.44 306.77,771.04 307.50,768.75 C308.23,766.46 308.77,763.75 309.40,761.25 C310.02,758.75 310.63,755.62 311.25,753.75 C311.87,751.88 312.48,751.88 313.10,750.00 C313.73,748.12 314.43,745.42 315.00,742.50 C315.57,739.58 316.08,736.25 316.50,732.50 C316.92,728.75 317.12,723.75 317.50,720.00 C317.88,716.25 318.33,712.92 318.75,710.00 C319.17,707.08 319.54,703.54 320.00,702.50 C320.46,701.46 320.98,702.50 321.50,703.75 C322.02,705.00 322.62,707.71 323.10,710.00 C323.58,712.29 323.98,714.58 324.40,717.50 C324.82,720.42 325.08,724.58 325.60,727.50 C326.12,730.42 326.87,732.71 327.50,735.00 C328.13,737.29 328.73,739.58 329.40,741.25 C330.07,742.92 330.88,744.27 331.50,745.00 C332.12,745.73 332.56,746.02 333.10,745.60 C333.64,745.18 334.12,742.60 334.75,742.50 C335.38,742.40 336.12,744.17 336.90,745.00 C337.67,745.83 338.67,746.04 339.40,747.50 C340.12,748.96 340.63,751.25 341.25,753.75 C341.87,756.25 342.48,759.79 343.10,762.50 C343.73,765.21 344.27,767.92 345.00,770.00 C345.73,772.08 346.57,773.75 347.50,775.00 C348.43,776.25 349.67,776.98 350.60,777.50 C351.53,778.02 352.20,777.85 353.10,778.10 C354.00,778.35 352.93,778.85 356.00,779.00 C359.07,779.15 368.92,779.00 371.50,779.00" fill="none" stroke="#6aaad8" stroke-width="1.2" stroke-linejoin="round" />
<path d="M285.00,779.00 C287.17,779.00 295.29,779.15 298.00,779.00 C300.71,778.85 300.29,778.98 301.25,778.10 C302.21,777.23 303.02,775.31 303.75,773.75 C304.48,772.19 304.98,770.42 305.60,768.75 C306.23,767.08 306.98,765.83 307.50,763.75 C308.02,761.67 308.29,758.54 308.75,756.25 C309.21,753.96 309.73,750.94 310.25,750.00 C310.77,749.06 311.36,750.08 311.90,750.60 C312.44,751.12 312.88,752.99 313.50,753.10 C314.12,753.21 314.83,752.18 315.60,751.25 C316.37,750.32 317.37,749.17 318.10,747.50 C318.83,745.83 319.43,742.71 320.00,741.25 C320.57,739.79 320.98,738.64 321.50,738.75 C322.02,738.86 322.52,741.69 323.10,741.90 C323.68,742.11 324.43,741.36 325.00,740.00 C325.57,738.64 325.98,735.62 326.50,733.75 C327.02,731.88 327.48,730.21 328.10,728.75 C328.73,727.29 329.56,726.14 330.25,725.00 C330.94,723.86 331.67,723.36 332.25,721.90 C332.83,720.44 333.19,718.23 333.75,716.25 C334.31,714.27 334.98,711.77 335.60,710.00 C336.23,708.23 336.98,704.98 337.50,705.60 C338.02,706.23 338.29,710.31 338.75,713.75 C339.21,717.19 339.79,722.08 340.25,726.25 C340.71,730.42 341.02,735.00 341.50,738.75 C341.98,742.50 342.52,745.62 343.10,748.75 C343.68,751.88 344.37,754.58 345.00,757.50 C345.63,760.42 346.17,763.75 346.90,766.25 C347.63,768.75 348.57,770.73 349.40,772.50 C350.23,774.27 351.17,775.97 351.90,776.90 C352.62,777.83 353.07,777.75 353.75,778.10 C354.43,778.45 353.04,778.85 356.00,779.00 C358.96,779.15 368.92,779.00 371.50,779.00" fill="none" stroke="#a01848" stroke-width="1.3" stroke-linejoin="round" />
<text x="302.00" y="710.70" font-size="7.5" text-anchor="middle" fill="#6aaad8" font-weight="normal" font-style="normal" textLength="10.9" lengthAdjust="spacingAndGlyphs" >MT</text>
<text x="351.10" y="710.63" font-size="7.3" text-anchor="middle" fill="#a0143c" font-weight="bold" font-style="normal" textLength="19.2" lengthAdjust="spacingAndGlyphs" >mock</text>
<path d="M49.6,935.8 L49.6,853.8 L132.4,853.8 L132.4,935.8" fill="none" stroke="#000" stroke-width="1.3" stroke-linejoin="round" />
<line x1="45.60" y1="935.80" x2="132.90" y2="935.80" stroke="#000" stroke-width="1.8" />
<line x1="49.60" y1="935.80" x2="49.60" y2="939.20" stroke="#000" stroke-width="1.2" />
<line x1="55.83" y1="935.80" x2="55.83" y2="938.40" stroke="#000" stroke-width="1.2" />
<line x1="59.48" y1="935.80" x2="59.48" y2="938.40" stroke="#000" stroke-width="1.2" />
<line x1="62.06" y1="935.80" x2="62.06" y2="938.40" stroke="#000" stroke-width="1.2" />
<line x1="64.07" y1="935.80" x2="64.07" y2="938.40" stroke="#000" stroke-width="1.2" />
<line x1="65.71" y1="935.80" x2="65.71" y2="938.40" stroke="#000" stroke-width="1.2" />
<line x1="67.09" y1="935.80" x2="67.09" y2="938.40" stroke="#000" stroke-width="1.2" />
<line x1="68.29" y1="935.80" x2="68.29" y2="938.40" stroke="#000" stroke-width="1.2" />
<line x1="69.35" y1="935.80" x2="69.35" y2="938.40" stroke="#000" stroke-width="1.2" />
<line x1="70.30" y1="935.80" x2="70.30" y2="939.20" stroke="#000" stroke-width="1.2" />
<line x1="76.53" y1="935.80" x2="76.53" y2="938.40" stroke="#000" stroke-width="1.2" />
<line x1="80.18" y1="935.80" x2="80.18" y2="938.40" stroke="#000" stroke-width="1.2" />
<line x1="82.76" y1="935.80" x2="82.76" y2="938.40" stroke="#000" stroke-width="1.2" />
<line x1="84.77" y1="935.80" x2="84.77" y2="938.40" stroke="#000" stroke-width="1.2" />
<line x1="86.41" y1="935.80" x2="86.41" y2="938.40" stroke="#000" stroke-width="1.2" />
<line x1="87.79" y1="935.80" x2="87.79" y2="938.40" stroke="#000" stroke-width="1.2" />
<line x1="88.99" y1="935.80" x2="88.99" y2="938.40" stroke="#000" stroke-width="1.2" />
<line x1="90.05" y1="935.80" x2="90.05" y2="938.40" stroke="#000" stroke-width="1.2" />
<line x1="91.00" y1="935.80" x2="91.00" y2="939.20" stroke="#000" stroke-width="1.2" />
<line x1="97.23" y1="935.80" x2="97.23" y2="938.40" stroke="#000" stroke-width="1.2" />
<line x1="100.88" y1="935.80" x2="100.88" y2="938.40" stroke="#000" stroke-width="1.2" />
<line x1="103.46" y1="935.80" x2="103.46" y2="938.40" stroke="#000" stroke-width="1.2" />
<line x1="105.47" y1="935.80" x2="105.47" y2="938.40" stroke="#000" stroke-width="1.2" />
<line x1="107.11" y1="935.80" x2="107.11" y2="938.40" stroke="#000" stroke-width="1.2" />
<line x1="108.49" y1="935.80" x2="108.49" y2="938.40" stroke="#000" stroke-width="1.2" />
<line x1="109.69" y1="935.80" x2="109.69" y2="938.40" stroke="#000" stroke-width="1.2" />
<line x1="110.75" y1="935.80" x2="110.75" y2="938.40" stroke="#000" stroke-width="1.2" />
<line x1="111.70" y1="935.80" x2="111.70" y2="939.20" stroke="#000" stroke-width="1.2" />
<line x1="117.93" y1="935.80" x2="117.93" y2="938.40" stroke="#000" stroke-width="1.2" />
<line x1="121.58" y1="935.80" x2="121.58" y2="938.40" stroke="#000" stroke-width="1.2" />
<line x1="124.16" y1="935.80" x2="124.16" y2="938.40" stroke="#000" stroke-width="1.2" />
<line x1="126.17" y1="935.80" x2="126.17" y2="938.40" stroke="#000" stroke-width="1.2" />
<line x1="127.81" y1="935.80" x2="127.81" y2="938.40" stroke="#000" stroke-width="1.2" />
<line x1="129.19" y1="935.80" x2="129.19" y2="938.40" stroke="#000" stroke-width="1.2" />
<line x1="130.39" y1="935.80" x2="130.39" y2="938.40" stroke="#000" stroke-width="1.2" />
<line x1="131.45" y1="935.80" x2="131.45" y2="938.40" stroke="#000" stroke-width="1.2" />
<line x1="132.40" y1="935.80" x2="132.40" y2="938.80" stroke="#000" stroke-width="0.9" />
<text x="50.40" y="949.00" font-size="7.3" text-anchor="middle" fill="#2a2a2a" stroke="#2a2a2a" stroke-width="0.2">10<tspan font-size="4.3" dy="-3.2" stroke-width="0" fill="#555">0</tspan></text>
<text x="71.10" y="949.00" font-size="7.3" text-anchor="middle" fill="#2a2a2a" stroke="#2a2a2a" stroke-width="0.2">10<tspan font-size="4.3" dy="-3.2" stroke-width="0" fill="#555">1</tspan></text>
<text x="91.80" y="949.00" font-size="7.3" text-anchor="middle" fill="#2a2a2a" stroke="#2a2a2a" stroke-width="0.2">10<tspan font-size="4.3" dy="-3.2" stroke-width="0" fill="#555">2</tspan></text>
<text x="112.50" y="949.00" font-size="7.3" text-anchor="middle" fill="#2a2a2a" stroke="#2a2a2a" stroke-width="0.2">10<tspan font-size="4.3" dy="-3.2" stroke-width="0" fill="#555">3</tspan></text>
<text x="133.20" y="949.00" font-size="7.3" text-anchor="middle" fill="#2a2a2a" stroke="#2a2a2a" stroke-width="0.2">10<tspan font-size="4.3" dy="-3.2" stroke-width="0" fill="#555">4</tspan></text>
<text x="41.20" y="938.43" font-size="7.3" text-anchor="middle" fill="#2a2a2a" font-weight="normal" font-style="normal" stroke="#2a2a2a" stroke-width="0.2" >0</text>
<text transform="translate(33.40 895.30) rotate(-90)" font-size="10.8" text-anchor="middle" fill="#2a2a2a" stroke="#2a2a2a" stroke-width="0.35" textLength="16" lengthAdjust="spacingAndGlyphs">Count</text>
<text x="91.50" y="963.40" font-size="11" text-anchor="middle" fill="#2a2a2a" stroke="#2a2a2a" stroke-width="0.35" textLength="20.5" lengthAdjust="spacingAndGlyphs">CD11b</text>
<path d="M49.60,935.80 C49.83,935.80 50.52,935.80 50.98,935.80 C51.44,935.80 51.90,935.80 52.36,935.80 C52.82,935.80 53.28,935.80 53.74,935.80 C54.20,935.80 54.66,935.80 55.12,935.80 C55.58,935.80 56.04,935.80 56.50,935.80 C56.96,935.80 57.42,935.80 57.88,935.80 C58.34,935.80 58.80,935.80 59.26,935.80 C59.72,935.80 60.18,935.80 60.64,935.80 C61.10,935.80 61.56,935.80 62.02,935.80 C62.48,935.80 62.94,935.80 63.40,935.79 C63.86,935.79 64.32,935.79 64.78,935.78 C65.24,935.77 65.70,935.76 66.16,935.73 C66.62,935.70 67.08,935.68 67.54,935.61 C68.00,935.55 68.46,935.49 68.92,935.34 C69.38,935.19 69.84,935.04 70.30,934.73 C70.76,934.43 71.22,934.09 71.68,933.51 C72.14,932.93 72.60,932.27 73.06,931.25 C73.52,930.24 73.98,929.05 74.44,927.43 C74.90,925.81 75.36,923.89 75.82,921.53 C76.28,919.16 76.74,916.37 77.20,913.25 C77.66,910.12 78.12,906.48 78.58,902.77 C79.04,899.06 79.50,894.87 79.96,890.98 C80.42,887.10 80.88,882.92 81.34,879.45 C81.80,875.97 82.26,872.56 82.72,870.13 C83.18,867.71 83.64,865.71 84.10,864.90 C84.56,864.09 85.02,863.84 85.48,865.28 C85.94,866.72 86.40,869.86 86.86,873.52 C87.32,877.19 87.78,882.46 88.24,887.27 C88.70,892.09 89.16,897.72 89.62,902.44 C90.08,907.15 90.54,911.81 91.00,915.56 C91.46,919.32 91.92,922.45 92.38,924.97 C92.84,927.49 93.30,929.24 93.76,930.69 C94.22,932.14 94.68,932.95 95.14,933.67 C95.60,934.39 96.06,934.70 96.52,935.02 C96.98,935.33 97.44,935.43 97.90,935.55 C98.36,935.66 98.82,935.69 99.28,935.73 C99.74,935.77 100.20,935.77 100.66,935.78 C101.12,935.79 101.58,935.79 102.04,935.80 C102.50,935.80 102.96,935.80 103.42,935.80 C103.88,935.80 104.34,935.80 104.80,935.80 C105.26,935.80 105.72,935.80 106.18,935.80 C106.64,935.80 107.10,935.80 107.56,935.80 C108.02,935.80 108.48,935.80 108.94,935.80 C109.40,935.80 109.86,935.80 110.32,935.80 C110.78,935.80 111.24,935.80 111.70,935.80 C112.16,935.80 112.62,935.80 113.08,935.80 C113.54,935.80 114.00,935.80 114.46,935.80 C114.92,935.80 115.38,935.80 115.84,935.80 C116.30,935.80 116.76,935.80 117.22,935.80 C117.68,935.80 118.14,935.80 118.60,935.80 C119.06,935.80 119.52,935.80 119.98,935.80 C120.44,935.80 120.90,935.80 121.36,935.80 C121.82,935.80 122.28,935.80 122.74,935.80 C123.20,935.80 123.66,935.80 124.12,935.80 C124.58,935.80 125.04,935.80 125.50,935.80 C125.96,935.80 126.42,935.80 126.88,935.80 C127.34,935.80 127.80,935.80 128.26,935.80 C128.72,935.80 129.18,935.80 129.64,935.80 C130.10,935.80 130.56,935.80 131.02,935.80 C131.48,935.80 132.17,935.80 132.40,935.80" fill="none" stroke="#e5a03c" stroke-width="1.2" stroke-linejoin="round" />
<path d="M49.60,935.80 C49.83,935.80 50.52,935.80 50.98,935.80 C51.44,935.80 51.90,935.80 52.36,935.80 C52.82,935.80 53.28,935.80 53.74,935.80 C54.20,935.80 54.66,935.80 55.12,935.80 C55.58,935.80 56.04,935.80 56.50,935.80 C56.96,935.80 57.42,935.80 57.88,935.80 C58.34,935.80 58.80,935.80 59.26,935.80 C59.72,935.80 60.18,935.80 60.64,935.80 C61.10,935.80 61.56,935.80 62.02,935.80 C62.48,935.80 62.94,935.80 63.40,935.80 C63.86,935.80 64.32,935.80 64.78,935.80 C65.24,935.80 65.70,935.80 66.16,935.80 C66.62,935.79 67.08,935.79 67.54,935.79 C68.00,935.78 68.46,935.78 68.92,935.76 C69.38,935.74 69.84,935.73 70.30,935.67 C70.76,935.62 71.22,935.58 71.68,935.45 C72.14,935.32 72.60,935.19 73.06,934.90 C73.52,934.61 73.98,934.30 74.44,933.71 C74.90,933.12 75.36,932.45 75.82,931.36 C76.28,930.27 76.74,928.99 77.20,927.17 C77.66,925.36 78.12,923.18 78.58,920.47 C79.04,917.76 79.50,914.51 79.96,910.91 C80.42,907.32 80.88,903.07 81.34,898.88 C81.80,894.68 82.26,889.92 82.72,885.73 C83.18,881.54 83.64,877.12 84.10,873.75 C84.56,870.38 85.02,867.30 85.48,865.52 C85.94,863.73 86.40,862.65 86.86,863.06 C87.32,863.46 87.78,865.25 88.24,867.96 C88.70,870.67 89.16,875.00 89.62,879.31 C90.08,883.61 90.54,889.03 91.00,893.80 C91.46,898.56 91.92,903.67 92.38,907.91 C92.84,912.16 93.30,916.08 93.76,919.27 C94.22,922.46 94.68,924.99 95.14,927.05 C95.60,929.12 96.06,930.50 96.52,931.67 C96.98,932.83 97.44,933.48 97.90,934.06 C98.36,934.63 98.82,934.89 99.28,935.14 C99.74,935.40 100.20,935.48 100.66,935.58 C101.12,935.68 101.58,935.70 102.04,935.73 C102.50,935.77 102.96,935.77 103.42,935.78 C103.88,935.79 104.34,935.79 104.80,935.80 C105.26,935.80 105.72,935.80 106.18,935.80 C106.64,935.80 107.10,935.80 107.56,935.80 C108.02,935.80 108.48,935.80 108.94,935.80 C109.40,935.80 109.86,935.80 110.32,935.80 C110.78,935.80 111.24,935.80 111.70,935.80 C112.16,935.80 112.62,935.80 113.08,935.80 C113.54,935.80 114.00,935.80 114.46,935.80 C114.92,935.80 115.38,935.80 115.84,935.80 C116.30,935.80 116.76,935.80 117.22,935.80 C117.68,935.80 118.14,935.80 118.60,935.80 C119.06,935.80 119.52,935.80 119.98,935.80 C120.44,935.80 120.90,935.80 121.36,935.80 C121.82,935.80 122.28,935.80 122.74,935.80 C123.20,935.80 123.66,935.80 124.12,935.80 C124.58,935.80 125.04,935.80 125.50,935.80 C125.96,935.80 126.42,935.80 126.88,935.80 C127.34,935.80 127.80,935.80 128.26,935.80 C128.72,935.80 129.18,935.80 129.64,935.80 C130.10,935.80 130.56,935.80 131.02,935.80 C131.48,935.80 132.17,935.80 132.40,935.80" fill="none" stroke="#6aaad8" stroke-width="1.2" stroke-linejoin="round" />
<path d="M49.60,935.80 C49.83,935.80 50.52,935.80 50.98,935.80 C51.44,935.80 51.90,935.80 52.36,935.80 C52.82,935.80 53.28,935.80 53.74,935.80 C54.20,935.80 54.66,935.80 55.12,935.80 C55.58,935.80 56.04,935.80 56.50,935.80 C56.96,935.80 57.42,935.80 57.88,935.80 C58.34,935.80 58.80,935.80 59.26,935.80 C59.72,935.80 60.18,935.80 60.64,935.80 C61.10,935.80 61.56,935.80 62.02,935.80 C62.48,935.80 62.94,935.80 63.40,935.80 C63.86,935.80 64.32,935.80 64.78,935.80 C65.24,935.80 65.70,935.80 66.16,935.80 C66.62,935.80 67.08,935.80 67.54,935.80 C68.00,935.80 68.46,935.80 68.92,935.80 C69.38,935.79 69.84,935.79 70.30,935.78 C70.76,935.78 71.22,935.77 71.68,935.75 C72.14,935.73 72.60,935.72 73.06,935.67 C73.52,935.62 73.98,935.58 74.44,935.47 C74.90,935.36 75.36,935.24 75.82,935.01 C76.28,934.77 76.74,934.52 77.20,934.06 C77.66,933.60 78.12,933.08 78.58,932.25 C79.04,931.42 79.50,930.45 79.96,929.09 C80.42,927.72 80.88,926.10 81.34,924.04 C81.80,921.98 82.26,919.54 82.72,916.72 C83.18,913.90 83.64,910.60 84.10,907.11 C84.56,903.63 85.02,899.65 85.48,895.83 C85.94,892.01 86.40,887.82 86.86,884.19 C87.32,880.56 87.78,876.86 88.24,874.05 C88.70,871.24 89.16,868.76 89.62,867.33 C90.08,865.90 90.54,865.03 91.00,865.48 C91.46,865.92 91.92,867.53 92.38,870.00 C92.84,872.46 93.30,876.33 93.76,880.25 C94.22,884.17 94.68,889.08 95.14,893.50 C95.60,897.91 96.06,902.69 96.52,906.74 C96.98,910.79 97.44,914.62 97.90,917.79 C98.36,920.95 98.82,923.57 99.28,925.73 C99.74,927.88 100.20,929.43 100.66,930.72 C101.12,932.01 101.58,932.80 102.04,933.49 C102.50,934.18 102.96,934.52 103.42,934.85 C103.88,935.18 104.34,935.31 104.80,935.45 C105.26,935.59 105.72,935.63 106.18,935.68 C106.64,935.74 107.10,935.75 107.56,935.76 C108.02,935.78 108.48,935.78 108.94,935.79 C109.40,935.80 109.86,935.80 110.32,935.80 C110.78,935.80 111.24,935.80 111.70,935.80 C112.16,935.80 112.62,935.80 113.08,935.80 C113.54,935.80 114.00,935.80 114.46,935.80 C114.92,935.80 115.38,935.80 115.84,935.80 C116.30,935.80 116.76,935.80 117.22,935.80 C117.68,935.80 118.14,935.80 118.60,935.80 C119.06,935.80 119.52,935.80 119.98,935.80 C120.44,935.80 120.90,935.80 121.36,935.80 C121.82,935.80 122.28,935.80 122.74,935.80 C123.20,935.80 123.66,935.80 124.12,935.80 C124.58,935.80 125.04,935.80 125.50,935.80 C125.96,935.80 126.42,935.80 126.88,935.80 C127.34,935.80 127.80,935.80 128.26,935.80 C128.72,935.80 129.18,935.80 129.64,935.80 C130.10,935.80 130.56,935.80 131.02,935.80 C131.48,935.80 132.17,935.80 132.40,935.80" fill="none" stroke="#a01848" stroke-width="1.3" stroke-linejoin="round" />
<text x="73.10" y="865.63" font-size="7.3" text-anchor="middle" fill="#6aaad8" font-weight="normal" font-style="normal" stroke="#6aaad8" stroke-width="0.1" textLength="16.2" lengthAdjust="spacingAndGlyphs" >sh#1</text>
<text x="69.40" y="879.63" font-size="7.3" text-anchor="middle" fill="#e5a03c" font-weight="normal" font-style="normal" stroke="#e5a03c" stroke-width="0.1" textLength="16.7" lengthAdjust="spacingAndGlyphs" >sh#2</text>
<text x="110.80" y="874.23" font-size="7.3" text-anchor="middle" fill="#a0143c" font-weight="bold" font-style="normal" textLength="33" lengthAdjust="spacingAndGlyphs" >control sh</text>
<path d="M167.3,936.5 L167.3,854.3 L249.2,854.3 L249.2,936.5" fill="none" stroke="#000" stroke-width="1.3" stroke-linejoin="round" />
<line x1="163.30" y1="936.50" x2="249.70" y2="936.50" stroke="#000" stroke-width="1.8" />
<line x1="167.30" y1="936.50" x2="167.30" y2="939.90" stroke="#000" stroke-width="1.2" />
<line x1="173.46" y1="936.50" x2="173.46" y2="939.10" stroke="#000" stroke-width="1.2" />
<line x1="177.07" y1="936.50" x2="177.07" y2="939.10" stroke="#000" stroke-width="1.2" />
<line x1="179.63" y1="936.50" x2="179.63" y2="939.10" stroke="#000" stroke-width="1.2" />
<line x1="181.61" y1="936.50" x2="181.61" y2="939.10" stroke="#000" stroke-width="1.2" />
<line x1="183.23" y1="936.50" x2="183.23" y2="939.10" stroke="#000" stroke-width="1.2" />
<line x1="184.60" y1="936.50" x2="184.60" y2="939.10" stroke="#000" stroke-width="1.2" />
<line x1="185.79" y1="936.50" x2="185.79" y2="939.10" stroke="#000" stroke-width="1.2" />
<line x1="186.84" y1="936.50" x2="186.84" y2="939.10" stroke="#000" stroke-width="1.2" />
<line x1="187.78" y1="936.50" x2="187.78" y2="939.90" stroke="#000" stroke-width="1.2" />
<line x1="193.94" y1="936.50" x2="193.94" y2="939.10" stroke="#000" stroke-width="1.2" />
<line x1="197.54" y1="936.50" x2="197.54" y2="939.10" stroke="#000" stroke-width="1.2" />
<line x1="200.10" y1="936.50" x2="200.10" y2="939.10" stroke="#000" stroke-width="1.2" />
<line x1="202.09" y1="936.50" x2="202.09" y2="939.10" stroke="#000" stroke-width="1.2" />
<line x1="203.71" y1="936.50" x2="203.71" y2="939.10" stroke="#000" stroke-width="1.2" />
<line x1="205.08" y1="936.50" x2="205.08" y2="939.10" stroke="#000" stroke-width="1.2" />
<line x1="206.27" y1="936.50" x2="206.27" y2="939.10" stroke="#000" stroke-width="1.2" />
<line x1="207.31" y1="936.50" x2="207.31" y2="939.10" stroke="#000" stroke-width="1.2" />
<line x1="208.25" y1="936.50" x2="208.25" y2="939.90" stroke="#000" stroke-width="1.2" />
<line x1="214.41" y1="936.50" x2="214.41" y2="939.10" stroke="#000" stroke-width="1.2" />
<line x1="218.02" y1="936.50" x2="218.02" y2="939.10" stroke="#000" stroke-width="1.2" />
<line x1="220.58" y1="936.50" x2="220.58" y2="939.10" stroke="#000" stroke-width="1.2" />
<line x1="222.56" y1="936.50" x2="222.56" y2="939.10" stroke="#000" stroke-width="1.2" />
<line x1="224.18" y1="936.50" x2="224.18" y2="939.10" stroke="#000" stroke-width="1.2" />
<line x1="225.55" y1="936.50" x2="225.55" y2="939.10" stroke="#000" stroke-width="1.2" />
<line x1="226.74" y1="936.50" x2="226.74" y2="939.10" stroke="#000" stroke-width="1.2" />
<line x1="227.79" y1="936.50" x2="227.79" y2="939.10" stroke="#000" stroke-width="1.2" />
<line x1="228.72" y1="936.50" x2="228.72" y2="939.90" stroke="#000" stroke-width="1.2" />
<line x1="234.89" y1="936.50" x2="234.89" y2="939.10" stroke="#000" stroke-width="1.2" />
<line x1="238.49" y1="936.50" x2="238.49" y2="939.10" stroke="#000" stroke-width="1.2" />
<line x1="241.05" y1="936.50" x2="241.05" y2="939.10" stroke="#000" stroke-width="1.2" />
<line x1="243.04" y1="936.50" x2="243.04" y2="939.10" stroke="#000" stroke-width="1.2" />
<line x1="244.66" y1="936.50" x2="244.66" y2="939.10" stroke="#000" stroke-width="1.2" />
<line x1="246.03" y1="936.50" x2="246.03" y2="939.10" stroke="#000" stroke-width="1.2" />
<line x1="247.22" y1="936.50" x2="247.22" y2="939.10" stroke="#000" stroke-width="1.2" />
<line x1="248.26" y1="936.50" x2="248.26" y2="939.10" stroke="#000" stroke-width="1.2" />
<line x1="249.20" y1="936.50" x2="249.20" y2="939.50" stroke="#000" stroke-width="0.9" />
<text x="168.10" y="949.70" font-size="7.3" text-anchor="middle" fill="#2a2a2a" stroke="#2a2a2a" stroke-width="0.2">10<tspan font-size="4.3" dy="-3.2" stroke-width="0" fill="#555">0</tspan></text>
<text x="188.58" y="949.70" font-size="7.3" text-anchor="middle" fill="#2a2a2a" stroke="#2a2a2a" stroke-width="0.2">10<tspan font-size="4.3" dy="-3.2" stroke-width="0" fill="#555">1</tspan></text>
<text x="209.05" y="949.70" font-size="7.3" text-anchor="middle" fill="#2a2a2a" stroke="#2a2a2a" stroke-width="0.2">10<tspan font-size="4.3" dy="-3.2" stroke-width="0" fill="#555">2</tspan></text>
<text x="229.53" y="949.70" font-size="7.3" text-anchor="middle" fill="#2a2a2a" stroke="#2a2a2a" stroke-width="0.2">10<tspan font-size="4.3" dy="-3.2" stroke-width="0" fill="#555">3</tspan></text>
<text x="250.00" y="949.70" font-size="7.3" text-anchor="middle" fill="#2a2a2a" stroke="#2a2a2a" stroke-width="0.2">10<tspan font-size="4.3" dy="-3.2" stroke-width="0" fill="#555">4</tspan></text>
<text x="158.00" y="939.13" font-size="7.3" text-anchor="middle" fill="#2a2a2a" font-weight="normal" font-style="normal" stroke="#2a2a2a" stroke-width="0.2" >0</text>
<text transform="translate(151.20 895.90) rotate(-90)" font-size="10.8" text-anchor="middle" fill="#2a2a2a" stroke="#2a2a2a" stroke-width="0.35" textLength="16" lengthAdjust="spacingAndGlyphs">Count</text>
<text x="208.75" y="964.10" font-size="11" text-anchor="middle" fill="#2a2a2a" stroke="#2a2a2a" stroke-width="0.35" textLength="15.6" lengthAdjust="spacingAndGlyphs">CD14</text>
<path d="M167.30,936.50 C167.53,936.50 168.21,936.50 168.67,936.50 C169.12,936.50 169.57,936.50 170.03,936.50 C170.49,936.50 170.94,936.50 171.40,936.50 C171.85,936.50 172.31,936.50 172.76,936.50 C173.22,936.50 173.67,936.50 174.12,936.50 C174.58,936.50 175.03,936.50 175.49,936.49 C175.95,936.49 176.40,936.49 176.86,936.47 C177.31,936.45 177.76,936.45 178.22,936.38 C178.68,936.32 179.13,936.28 179.59,936.11 C180.04,935.93 180.50,935.77 180.95,935.32 C181.41,934.87 181.86,934.39 182.31,933.38 C182.77,932.38 183.22,931.21 183.68,929.27 C184.14,927.34 184.59,924.96 185.05,921.76 C185.50,918.57 185.95,914.57 186.41,910.09 C186.87,905.61 187.32,900.09 187.78,894.89 C188.23,889.69 188.69,883.64 189.14,878.89 C189.60,874.14 190.05,869.28 190.50,866.39 C190.96,863.49 191.41,861.44 191.87,861.50 C192.33,861.56 192.78,863.55 193.24,866.76 C193.69,869.98 194.14,875.55 194.60,880.80 C195.06,886.06 195.51,892.76 195.97,898.29 C196.42,903.82 196.88,909.52 197.33,913.99 C197.79,918.46 198.24,922.18 198.69,925.11 C199.15,928.03 199.60,929.96 200.06,931.55 C200.52,933.14 200.97,933.92 201.43,934.65 C201.88,935.38 202.34,935.63 202.79,935.91 C203.25,936.19 203.70,936.24 204.16,936.34 C204.61,936.43 205.06,936.44 205.52,936.46 C205.98,936.49 206.43,936.49 206.88,936.49 C207.34,936.50 207.79,936.50 208.25,936.50 C208.71,936.50 209.16,936.50 209.62,936.50 C210.07,936.50 210.52,936.50 210.98,936.50 C211.44,936.50 211.89,936.50 212.34,936.50 C212.80,936.50 213.25,936.50 213.71,936.50 C214.17,936.50 214.62,936.50 215.07,936.50 C215.53,936.50 215.98,936.50 216.44,936.50 C216.90,936.50 217.35,936.50 217.81,936.50 C218.26,936.50 218.71,936.50 219.17,936.50 C219.62,936.50 220.08,936.50 220.53,936.50 C220.99,936.50 221.44,936.50 221.90,936.50 C222.36,936.50 222.81,936.50 223.26,936.50 C223.72,936.50 224.17,936.50 224.63,936.50 C225.09,936.50 225.54,936.50 226.00,936.50 C226.45,936.50 226.90,936.50 227.36,936.50 C227.81,936.50 228.27,936.50 228.72,936.50 C229.18,936.50 229.63,936.50 230.09,936.50 C230.54,936.50 231.00,936.50 231.45,936.50 C231.91,936.50 232.36,936.50 232.82,936.50 C233.28,936.50 233.73,936.50 234.19,936.50 C234.64,936.50 235.10,936.50 235.55,936.50 C236.00,936.50 236.46,936.50 236.91,936.50 C237.37,936.50 237.82,936.50 238.28,936.50 C238.74,936.50 239.19,936.50 239.64,936.50 C240.10,936.50 240.55,936.50 241.01,936.50 C241.47,936.50 241.92,936.50 242.38,936.50 C242.83,936.50 243.29,936.50 243.74,936.50 C244.19,936.50 244.65,936.50 245.10,936.50 C245.56,936.50 246.01,936.50 246.47,936.50 C246.93,936.50 247.38,936.50 247.83,936.50 C248.29,936.50 248.97,936.50 249.20,936.50" fill="none" stroke="#6aaad8" stroke-width="1.2" stroke-linejoin="round" />
<path d="M167.30,936.50 C167.53,936.50 168.21,936.50 168.67,936.50 C169.12,936.50 169.57,936.50 170.03,936.50 C170.49,936.50 170.94,936.50 171.40,936.50 C171.85,936.50 172.31,936.50 172.76,936.50 C173.22,936.50 173.67,936.50 174.12,936.50 C174.58,936.50 175.03,936.50 175.49,936.50 C175.95,936.50 176.40,936.50 176.86,936.50 C177.31,936.50 177.76,936.50 178.22,936.50 C178.68,936.49 179.13,936.49 179.59,936.48 C180.04,936.47 180.50,936.47 180.95,936.44 C181.41,936.40 181.86,936.38 182.31,936.28 C182.77,936.18 183.22,936.10 183.68,935.83 C184.14,935.57 184.59,935.31 185.05,934.70 C185.50,934.09 185.95,933.42 186.41,932.18 C186.87,930.94 187.32,929.47 187.78,927.26 C188.23,925.05 188.69,922.34 189.14,918.92 C189.60,915.50 190.05,911.28 190.50,906.72 C190.96,902.17 191.41,896.69 191.87,891.61 C192.33,886.53 192.78,880.77 193.24,876.26 C193.69,871.75 194.14,867.25 194.60,864.55 C195.06,861.84 195.51,859.96 195.97,860.00 C196.42,860.04 196.88,861.82 197.33,864.79 C197.79,867.76 198.24,872.86 198.69,877.82 C199.15,882.79 199.60,889.17 200.06,894.60 C200.52,900.03 200.97,905.77 201.43,910.39 C201.88,915.00 202.34,919.07 202.79,922.30 C203.25,925.53 203.70,927.86 204.16,929.76 C204.61,931.66 205.06,932.75 205.52,933.71 C205.98,934.66 206.43,935.08 206.88,935.49 C207.34,935.90 207.79,936.03 208.25,936.18 C208.71,936.33 209.16,936.36 209.62,936.41 C210.07,936.46 210.52,936.47 210.98,936.48 C211.44,936.49 211.89,936.49 212.34,936.50 C212.80,936.50 213.25,936.50 213.71,936.50 C214.17,936.50 214.62,936.50 215.07,936.50 C215.53,936.50 215.98,936.50 216.44,936.50 C216.90,936.50 217.35,936.50 217.81,936.50 C218.26,936.50 218.71,936.50 219.17,936.50 C219.62,936.50 220.08,936.50 220.53,936.50 C220.99,936.50 221.44,936.50 221.90,936.50 C222.36,936.50 222.81,936.50 223.26,936.50 C223.72,936.50 224.17,936.50 224.63,936.50 C225.09,936.50 225.54,936.50 226.00,936.50 C226.45,936.50 226.90,936.50 227.36,936.50 C227.81,936.50 228.27,936.50 228.72,936.50 C229.18,936.50 229.63,936.50 230.09,936.50 C230.54,936.50 231.00,936.50 231.45,936.50 C231.91,936.50 232.36,936.50 232.82,936.50 C233.28,936.50 233.73,936.50 234.19,936.50 C234.64,936.50 235.10,936.50 235.55,936.50 C236.00,936.50 236.46,936.50 236.91,936.50 C237.37,936.50 237.82,936.50 238.28,936.50 C238.74,936.50 239.19,936.50 239.64,936.50 C240.10,936.50 240.55,936.50 241.01,936.50 C241.47,936.50 241.92,936.50 242.38,936.50 C242.83,936.50 243.29,936.50 243.74,936.50 C244.19,936.50 244.65,936.50 245.10,936.50 C245.56,936.50 246.01,936.50 246.47,936.50 C246.93,936.50 247.38,936.50 247.83,936.50 C248.29,936.50 248.97,936.50 249.20,936.50" fill="none" stroke="#e5a03c" stroke-width="1.2" stroke-linejoin="round" />
<path d="M167.30,936.50 C167.53,936.50 168.21,936.50 168.67,936.50 C169.12,936.50 169.57,936.50 170.03,936.50 C170.49,936.50 170.94,936.50 171.40,936.50 C171.85,936.50 172.31,936.50 172.76,936.50 C173.22,936.50 173.67,936.50 174.12,936.50 C174.58,936.50 175.03,936.50 175.49,936.50 C175.95,936.50 176.40,936.50 176.86,936.50 C177.31,936.50 177.76,936.50 178.22,936.50 C178.68,936.50 179.13,936.50 179.59,936.50 C180.04,936.50 180.50,936.50 180.95,936.50 C181.41,936.50 181.86,936.50 182.31,936.50 C182.77,936.50 183.22,936.50 183.68,936.49 C184.14,936.48 184.59,936.48 185.05,936.44 C185.50,936.40 185.95,936.39 186.41,936.26 C186.87,936.13 187.32,936.04 187.78,935.65 C188.23,935.27 188.69,934.91 189.14,933.97 C189.60,933.02 190.05,931.96 190.50,929.99 C190.96,928.01 191.41,925.57 191.87,922.11 C192.33,918.64 192.78,914.21 193.24,909.20 C193.69,904.18 194.14,897.83 194.60,892.01 C195.06,886.18 195.51,879.28 195.97,874.22 C196.42,869.16 196.88,864.14 197.33,861.63 C197.79,859.13 198.24,858.14 198.69,859.19 C199.15,860.25 199.60,863.76 200.06,867.94 C200.52,872.12 200.97,878.54 201.43,884.28 C201.88,890.01 202.34,896.83 202.79,902.33 C203.25,907.84 203.70,913.15 204.16,917.30 C204.61,921.45 205.06,924.67 205.52,927.23 C205.98,929.79 206.43,931.34 206.88,932.66 C207.34,933.97 207.79,934.56 208.25,935.13 C208.71,935.70 209.16,935.87 209.62,936.08 C210.07,936.29 210.52,936.32 210.98,936.39 C211.44,936.46 211.89,936.46 212.34,936.48 C212.80,936.49 213.25,936.49 213.71,936.50 C214.17,936.50 214.62,936.50 215.07,936.50 C215.53,936.50 215.98,936.50 216.44,936.50 C216.90,936.50 217.35,936.50 217.81,936.50 C218.26,936.50 218.71,936.50 219.17,936.50 C219.62,936.50 220.08,936.50 220.53,936.50 C220.99,936.50 221.44,936.50 221.90,936.50 C222.36,936.50 222.81,936.50 223.26,936.50 C223.72,936.50 224.17,936.50 224.63,936.50 C225.09,936.50 225.54,936.50 226.00,936.50 C226.45,936.50 226.90,936.50 227.36,936.50 C227.81,936.50 228.27,936.50 228.72,936.50 C229.18,936.50 229.63,936.50 230.09,936.50 C230.54,936.50 231.00,936.50 231.45,936.50 C231.91,936.50 232.36,936.50 232.82,936.50 C233.28,936.50 233.73,936.50 234.19,936.50 C234.64,936.50 235.10,936.50 235.55,936.50 C236.00,936.50 236.46,936.50 236.91,936.50 C237.37,936.50 237.82,936.50 238.28,936.50 C238.74,936.50 239.19,936.50 239.64,936.50 C240.10,936.50 240.55,936.50 241.01,936.50 C241.47,936.50 241.92,936.50 242.38,936.50 C242.83,936.50 243.29,936.50 243.74,936.50 C244.19,936.50 244.65,936.50 245.10,936.50 C245.56,936.50 246.01,936.50 246.47,936.50 C246.93,936.50 247.38,936.50 247.83,936.50 C248.29,936.50 248.97,936.50 249.20,936.50" fill="none" stroke="#a01848" stroke-width="1.4" stroke-linejoin="round" />
<text x="179.60" y="865.23" font-size="7.3" text-anchor="middle" fill="#e5a03c" font-weight="normal" font-style="normal" stroke="#e5a03c" stroke-width="0.1" textLength="16.8" lengthAdjust="spacingAndGlyphs" >sh#2</text>
<text x="177.70" y="877.63" font-size="7.3" text-anchor="middle" fill="#6aaad8" font-weight="normal" font-style="normal" stroke="#6aaad8" stroke-width="0.1" textLength="16.2" lengthAdjust="spacingAndGlyphs" >sh#1</text>
<text x="218.10" y="868.03" font-size="7.3" text-anchor="middle" fill="#a0143c" font-weight="bold" font-style="normal" textLength="33.8" lengthAdjust="spacingAndGlyphs" >control sh</text>
<path d="M285,936.5 L285,854.3 L367,854.3 L367,936.5" fill="none" stroke="#000" stroke-width="1.3" stroke-linejoin="round" />
<line x1="281.00" y1="936.50" x2="367.50" y2="936.50" stroke="#000" stroke-width="1.8" />
<line x1="285.00" y1="936.50" x2="285.00" y2="939.90" stroke="#000" stroke-width="1.2" />
<line x1="291.17" y1="936.50" x2="291.17" y2="939.10" stroke="#000" stroke-width="1.2" />
<line x1="294.78" y1="936.50" x2="294.78" y2="939.10" stroke="#000" stroke-width="1.2" />
<line x1="297.34" y1="936.50" x2="297.34" y2="939.10" stroke="#000" stroke-width="1.2" />
<line x1="299.33" y1="936.50" x2="299.33" y2="939.10" stroke="#000" stroke-width="1.2" />
<line x1="300.95" y1="936.50" x2="300.95" y2="939.10" stroke="#000" stroke-width="1.2" />
<line x1="302.32" y1="936.50" x2="302.32" y2="939.10" stroke="#000" stroke-width="1.2" />
<line x1="303.51" y1="936.50" x2="303.51" y2="939.10" stroke="#000" stroke-width="1.2" />
<line x1="304.56" y1="936.50" x2="304.56" y2="939.10" stroke="#000" stroke-width="1.2" />
<line x1="305.50" y1="936.50" x2="305.50" y2="939.90" stroke="#000" stroke-width="1.2" />
<line x1="311.67" y1="936.50" x2="311.67" y2="939.10" stroke="#000" stroke-width="1.2" />
<line x1="315.28" y1="936.50" x2="315.28" y2="939.10" stroke="#000" stroke-width="1.2" />
<line x1="317.84" y1="936.50" x2="317.84" y2="939.10" stroke="#000" stroke-width="1.2" />
<line x1="319.83" y1="936.50" x2="319.83" y2="939.10" stroke="#000" stroke-width="1.2" />
<line x1="321.45" y1="936.50" x2="321.45" y2="939.10" stroke="#000" stroke-width="1.2" />
<line x1="322.82" y1="936.50" x2="322.82" y2="939.10" stroke="#000" stroke-width="1.2" />
<line x1="324.01" y1="936.50" x2="324.01" y2="939.10" stroke="#000" stroke-width="1.2" />
<line x1="325.06" y1="936.50" x2="325.06" y2="939.10" stroke="#000" stroke-width="1.2" />
<line x1="326.00" y1="936.50" x2="326.00" y2="939.90" stroke="#000" stroke-width="1.2" />
<line x1="332.17" y1="936.50" x2="332.17" y2="939.10" stroke="#000" stroke-width="1.2" />
<line x1="335.78" y1="936.50" x2="335.78" y2="939.10" stroke="#000" stroke-width="1.2" />
<line x1="338.34" y1="936.50" x2="338.34" y2="939.10" stroke="#000" stroke-width="1.2" />
<line x1="340.33" y1="936.50" x2="340.33" y2="939.10" stroke="#000" stroke-width="1.2" />
<line x1="341.95" y1="936.50" x2="341.95" y2="939.10" stroke="#000" stroke-width="1.2" />
<line x1="343.32" y1="936.50" x2="343.32" y2="939.10" stroke="#000" stroke-width="1.2" />
<line x1="344.51" y1="936.50" x2="344.51" y2="939.10" stroke="#000" stroke-width="1.2" />
<line x1="345.56" y1="936.50" x2="345.56" y2="939.10" stroke="#000" stroke-width="1.2" />
<line x1="346.50" y1="936.50" x2="346.50" y2="939.90" stroke="#000" stroke-width="1.2" />
<line x1="352.67" y1="936.50" x2="352.67" y2="939.10" stroke="#000" stroke-width="1.2" />
<line x1="356.28" y1="936.50" x2="356.28" y2="939.10" stroke="#000" stroke-width="1.2" />
<line x1="358.84" y1="936.50" x2="358.84" y2="939.10" stroke="#000" stroke-width="1.2" />
<line x1="360.83" y1="936.50" x2="360.83" y2="939.10" stroke="#000" stroke-width="1.2" />
<line x1="362.45" y1="936.50" x2="362.45" y2="939.10" stroke="#000" stroke-width="1.2" />
<line x1="363.82" y1="936.50" x2="363.82" y2="939.10" stroke="#000" stroke-width="1.2" />
<line x1="365.01" y1="936.50" x2="365.01" y2="939.10" stroke="#000" stroke-width="1.2" />
<line x1="366.06" y1="936.50" x2="366.06" y2="939.10" stroke="#000" stroke-width="1.2" />
<line x1="367.00" y1="936.50" x2="367.00" y2="939.50" stroke="#000" stroke-width="0.9" />
<text x="285.80" y="949.70" font-size="7.3" text-anchor="middle" fill="#2a2a2a" stroke="#2a2a2a" stroke-width="0.2">10<tspan font-size="4.3" dy="-3.2" stroke-width="0" fill="#555">0</tspan></text>
<text x="306.30" y="949.70" font-size="7.3" text-anchor="middle" fill="#2a2a2a" stroke="#2a2a2a" stroke-width="0.2">10<tspan font-size="4.3" dy="-3.2" stroke-width="0" fill="#555">1</tspan></text>
<text x="326.80" y="949.70" font-size="7.3" text-anchor="middle" fill="#2a2a2a" stroke="#2a2a2a" stroke-width="0.2">10<tspan font-size="4.3" dy="-3.2" stroke-width="0" fill="#555">2</tspan></text>
<text x="347.30" y="949.70" font-size="7.3" text-anchor="middle" fill="#2a2a2a" stroke="#2a2a2a" stroke-width="0.2">10<tspan font-size="4.3" dy="-3.2" stroke-width="0" fill="#555">3</tspan></text>
<text x="367.80" y="949.70" font-size="7.3" text-anchor="middle" fill="#2a2a2a" stroke="#2a2a2a" stroke-width="0.2">10<tspan font-size="4.3" dy="-3.2" stroke-width="0" fill="#555">4</tspan></text>
<text x="276.00" y="939.13" font-size="7.3" text-anchor="middle" fill="#2a2a2a" font-weight="normal" font-style="normal" stroke="#2a2a2a" stroke-width="0.2" >0</text>
<text transform="translate(268.90 895.90) rotate(-90)" font-size="10.8" text-anchor="middle" fill="#2a2a2a" stroke="#2a2a2a" stroke-width="0.35" textLength="16" lengthAdjust="spacingAndGlyphs">Count</text>
<text x="326.50" y="964.10" font-size="11" text-anchor="middle" fill="#2a2a2a" stroke="#2a2a2a" stroke-width="0.35" textLength="16" lengthAdjust="spacingAndGlyphs">CD34</text>
<path d="M285.00,936.50 C285.11,936.50 285.46,936.50 285.68,936.50 C285.91,936.50 286.14,936.50 286.37,936.50 C286.59,936.50 286.82,936.50 287.05,936.50 C287.28,936.50 287.51,936.50 287.73,936.50 C287.96,936.50 288.19,936.50 288.42,936.50 C288.64,936.50 288.87,936.50 289.10,936.50 C289.33,936.50 289.56,936.50 289.78,936.50 C290.01,936.50 290.24,936.50 290.47,936.50 C290.69,936.50 290.92,936.50 291.15,936.50 C291.38,936.50 291.61,936.50 291.83,936.50 C292.06,936.50 292.29,936.50 292.52,936.50 C292.74,936.50 292.97,936.50 293.20,936.50 C293.43,936.50 293.66,936.50 293.88,936.50 C294.11,936.50 294.34,936.50 294.57,936.50 C294.79,936.50 295.02,936.50 295.25,936.50 C295.48,936.50 295.71,936.50 295.93,936.50 C296.16,936.50 296.39,936.50 296.62,936.50 C296.84,936.50 297.07,936.50 297.30,936.50 C297.53,936.50 297.76,936.50 297.98,936.50 C298.21,936.50 298.44,936.50 298.67,936.50 C298.89,936.50 299.12,936.50 299.35,936.50 C299.58,936.50 299.81,936.50 300.03,936.50 C300.26,936.50 300.49,936.50 300.72,936.50 C300.94,936.50 301.17,936.50 301.40,936.50 C301.63,936.50 301.86,936.50 302.08,936.50 C302.31,936.50 302.54,936.50 302.77,936.49 C302.99,936.49 303.22,936.49 303.45,936.49 C303.68,936.48 303.91,936.48 304.13,936.47 C304.36,936.47 304.59,936.46 304.82,936.45 C305.04,936.44 305.27,936.43 305.50,936.41 C305.73,936.39 305.96,936.37 306.18,936.34 C306.41,936.31 306.64,936.28 306.87,936.24 C307.09,936.19 307.32,936.14 307.55,936.07 C307.78,936.00 308.01,935.92 308.23,935.82 C308.46,935.72 308.69,935.61 308.92,935.47 C309.14,935.33 309.37,935.17 309.60,934.99 C309.83,934.80 310.06,934.59 310.28,934.36 C310.51,934.13 310.74,933.87 310.97,933.58 C311.19,933.30 311.42,932.99 311.65,932.67 C311.88,932.34 312.11,931.99 312.33,931.64 C312.56,931.28 312.79,930.91 313.02,930.55 C313.24,930.19 313.47,929.82 313.70,929.47 C313.93,929.13 314.16,928.79 314.38,928.50 C314.61,928.20 314.84,927.92 315.07,927.70 C315.29,927.48 315.52,927.29 315.75,927.15 C315.98,927.02 316.21,926.94 316.43,926.91 C316.66,926.88 316.89,926.90 317.12,926.96 C317.34,927.03 317.57,927.15 317.80,927.29 C318.03,927.43 318.26,927.63 318.48,927.82 C318.71,928.01 318.94,928.24 319.17,928.44 C319.39,928.65 319.62,928.87 319.85,929.05 C320.08,929.23 320.31,929.40 320.53,929.52 C320.76,929.64 320.99,929.74 321.22,929.78 C321.44,929.82 321.67,929.82 321.90,929.78 C322.13,929.74 322.36,929.65 322.58,929.53 C322.81,929.41 323.04,929.24 323.27,929.07 C323.49,928.90 323.72,928.69 323.95,928.50 C324.18,928.31 324.41,928.11 324.63,927.93 C324.86,927.76 325.09,927.59 325.32,927.46 C325.54,927.33 325.77,927.23 326.00,927.16 C326.23,927.09 326.46,927.06 326.68,927.06 C326.91,927.05 327.14,927.08 327.37,927.11 C327.59,927.15 327.82,927.21 328.05,927.25 C328.28,927.29 328.51,927.35 328.73,927.35 C328.96,927.35 329.19,927.35 329.42,927.27 C329.64,927.19 329.87,927.08 330.10,926.89 C330.33,926.69 330.56,926.43 330.78,926.08 C331.01,925.73 331.24,925.30 331.47,924.78 C331.69,924.25 331.92,923.63 332.15,922.92 C332.38,922.21 332.61,921.40 332.83,920.50 C333.06,919.61 333.29,918.61 333.52,917.53 C333.74,916.45 333.97,915.28 334.20,914.03 C334.43,912.78 334.66,911.45 334.88,910.05 C335.11,908.66 335.34,907.18 335.57,905.66 C335.79,904.14 336.02,902.55 336.25,900.94 C336.48,899.32 336.71,897.65 336.93,895.98 C337.16,894.32 337.39,892.60 337.62,890.92 C337.84,889.23 338.07,887.53 338.30,885.87 C338.53,884.21 338.76,882.56 338.98,880.98 C339.21,879.40 339.44,877.85 339.67,876.40 C339.89,874.96 340.12,873.56 340.35,872.29 C340.58,871.02 340.81,869.82 341.03,868.77 C341.26,867.72 341.49,866.78 341.72,865.98 C341.94,865.19 342.17,864.53 342.40,864.03 C342.63,863.53 342.86,863.16 343.08,862.98 C343.31,862.80 343.54,862.66 343.77,862.96 C343.99,863.25 344.22,863.84 344.45,864.75 C344.68,865.66 344.91,866.94 345.13,868.42 C345.36,869.91 345.59,871.73 345.82,873.67 C346.04,875.62 346.27,877.84 346.50,880.11 C346.73,882.38 346.96,884.84 347.18,887.27 C347.41,889.70 347.64,892.25 347.87,894.70 C348.09,897.15 348.32,899.64 348.55,901.98 C348.78,904.33 349.01,906.63 349.23,908.78 C349.46,910.92 349.69,912.96 349.92,914.84 C350.14,916.72 350.37,918.46 350.60,920.05 C350.83,921.63 351.06,923.05 351.28,924.34 C351.51,925.63 351.74,926.75 351.97,927.76 C352.19,928.77 352.42,929.63 352.65,930.39 C352.88,931.16 353.11,931.79 353.33,932.35 C353.56,932.91 353.79,933.36 354.02,933.75 C354.24,934.15 354.47,934.46 354.70,934.73 C354.93,935.01 355.16,935.21 355.38,935.40 C355.61,935.58 355.84,935.71 356.07,935.83 C356.29,935.95 356.52,936.03 356.75,936.10 C356.98,936.18 357.21,936.23 357.43,936.27 C357.66,936.32 357.89,936.35 358.12,936.37 C358.34,936.40 358.57,936.42 358.80,936.43 C359.03,936.45 359.26,936.45 359.48,936.46 C359.71,936.47 359.94,936.48 360.17,936.48 C360.39,936.49 360.62,936.49 360.85,936.49 C361.08,936.49 361.31,936.49 361.53,936.50 C361.76,936.50 361.99,936.50 362.22,936.50 C362.44,936.50 362.67,936.50 362.90,936.50 C363.13,936.50 363.36,936.50 363.58,936.50 C363.81,936.50 364.04,936.50 364.27,936.50 C364.49,936.50 364.72,936.50 364.95,936.50 C365.18,936.50 365.41,936.50 365.63,936.50 C365.86,936.50 366.09,936.50 366.32,936.50 C366.54,936.50 366.89,936.50 367.00,936.50" fill="none" stroke="#6aaad8" stroke-width="1.2" stroke-linejoin="round" />
<path d="M285.00,936.50 C285.11,936.50 285.46,936.50 285.68,936.50 C285.91,936.50 286.14,936.50 286.37,936.50 C286.59,936.50 286.82,936.50 287.05,936.50 C287.28,936.50 287.51,936.50 287.73,936.50 C287.96,936.50 288.19,936.50 288.42,936.50 C288.64,936.50 288.87,936.50 289.10,936.50 C289.33,936.50 289.56,936.50 289.78,936.50 C290.01,936.50 290.24,936.50 290.47,936.50 C290.69,936.50 290.92,936.50 291.15,936.50 C291.38,936.50 291.61,936.50 291.83,936.50 C292.06,936.50 292.29,936.50 292.52,936.50 C292.74,936.50 292.97,936.50 293.20,936.50 C293.43,936.50 293.66,936.50 293.88,936.50 C294.11,936.50 294.34,936.50 294.57,936.50 C294.79,936.50 295.02,936.50 295.25,936.50 C295.48,936.50 295.71,936.50 295.93,936.50 C296.16,936.50 296.39,936.50 296.62,936.50 C296.84,936.50 297.07,936.50 297.30,936.50 C297.53,936.50 297.76,936.50 297.98,936.50 C298.21,936.50 298.44,936.50 298.67,936.50 C298.89,936.50 299.12,936.50 299.35,936.50 C299.58,936.50 299.81,936.50 300.03,936.50 C300.26,936.50 300.49,936.50 300.72,936.50 C300.94,936.50 301.17,936.50 301.40,936.50 C301.63,936.50 301.86,936.50 302.08,936.50 C302.31,936.50 302.54,936.49 302.77,936.49 C302.99,936.49 303.22,936.49 303.45,936.49 C303.68,936.48 303.91,936.48 304.13,936.47 C304.36,936.46 304.59,936.46 304.82,936.45 C305.04,936.43 305.27,936.42 305.50,936.40 C305.73,936.38 305.96,936.36 306.18,936.33 C306.41,936.29 306.64,936.26 306.87,936.21 C307.09,936.16 307.32,936.10 307.55,936.02 C307.78,935.95 308.01,935.86 308.23,935.75 C308.46,935.64 308.69,935.51 308.92,935.36 C309.14,935.20 309.37,935.03 309.60,934.83 C309.83,934.62 310.06,934.39 310.28,934.14 C310.51,933.88 310.74,933.59 310.97,933.28 C311.19,932.97 311.42,932.62 311.65,932.26 C311.88,931.90 312.11,931.51 312.33,931.13 C312.56,930.74 312.79,930.32 313.02,929.92 C313.24,929.52 313.47,929.11 313.70,928.74 C313.93,928.36 314.16,927.98 314.38,927.66 C314.61,927.33 314.84,927.02 315.07,926.78 C315.29,926.53 315.52,926.32 315.75,926.18 C315.98,926.03 316.21,925.94 316.43,925.91 C316.66,925.88 316.89,925.90 317.12,925.98 C317.34,926.05 317.57,926.19 317.80,926.36 C318.03,926.52 318.26,926.74 318.48,926.96 C318.71,927.18 318.94,927.44 319.17,927.69 C319.39,927.93 319.62,928.18 319.85,928.40 C320.08,928.62 320.31,928.83 320.53,929.00 C320.76,929.16 320.99,929.29 321.22,929.37 C321.44,929.45 321.67,929.49 321.90,929.48 C322.13,929.47 322.36,929.41 322.58,929.32 C322.81,929.23 323.04,929.09 323.27,928.94 C323.49,928.80 323.72,928.61 323.95,928.44 C324.18,928.28 324.41,928.09 324.63,927.94 C324.86,927.78 325.09,927.63 325.32,927.52 C325.54,927.41 325.77,927.33 326.00,927.28 C326.23,927.23 326.46,927.23 326.68,927.24 C326.91,927.26 327.14,927.31 327.37,927.37 C327.59,927.43 327.82,927.52 328.05,927.59 C328.28,927.67 328.51,927.75 328.73,927.79 C328.96,927.83 329.19,927.87 329.42,927.83 C329.64,927.80 329.87,927.73 330.10,927.59 C330.33,927.44 330.56,927.23 330.78,926.94 C331.01,926.64 331.24,926.28 331.47,925.81 C331.69,925.35 331.92,924.80 332.15,924.15 C332.38,923.51 332.61,922.77 332.83,921.94 C333.06,921.12 333.29,920.19 333.52,919.19 C333.74,918.18 333.97,917.08 334.20,915.90 C334.43,914.73 334.66,913.46 334.88,912.13 C335.11,910.81 335.34,909.39 335.57,907.94 C335.79,906.48 336.02,904.94 336.25,903.38 C336.48,901.81 336.71,900.19 336.93,898.55 C337.16,896.92 337.39,895.23 337.62,893.56 C337.84,891.90 338.07,890.20 338.30,888.54 C338.53,886.88 338.76,885.21 338.98,883.61 C339.21,882.00 339.44,880.42 339.67,878.92 C339.89,877.42 340.12,875.97 340.35,874.62 C340.58,873.28 340.81,872.00 341.03,870.86 C341.26,869.72 341.49,868.67 341.72,867.77 C341.94,866.87 342.17,866.09 342.40,865.46 C342.63,864.84 342.86,864.35 343.08,864.02 C343.31,863.69 343.54,863.44 343.77,863.50 C343.99,863.57 344.22,863.79 344.45,864.41 C344.68,865.04 344.91,866.03 345.13,867.26 C345.36,868.49 345.59,870.07 345.82,871.82 C346.04,873.56 346.27,875.61 346.50,877.73 C346.73,879.86 346.96,882.21 347.18,884.57 C347.41,886.92 347.64,889.43 347.87,891.86 C348.09,894.30 348.32,896.80 348.55,899.19 C348.78,901.57 349.01,903.94 349.23,906.16 C349.46,908.38 349.69,910.53 349.92,912.51 C350.14,914.49 350.37,916.35 350.60,918.05 C350.83,919.75 351.06,921.30 351.28,922.70 C351.51,924.10 351.74,925.34 351.97,926.46 C352.19,927.57 352.42,928.54 352.65,929.39 C352.88,930.25 353.11,930.97 353.33,931.61 C353.56,932.25 353.79,932.77 354.02,933.23 C354.24,933.69 354.47,934.05 354.70,934.37 C354.93,934.69 355.16,934.93 355.38,935.15 C355.61,935.37 355.84,935.53 356.07,935.67 C356.29,935.81 356.52,935.91 356.75,936.00 C356.98,936.09 357.21,936.15 357.43,936.21 C357.66,936.27 357.89,936.30 358.12,936.34 C358.34,936.37 358.57,936.39 358.80,936.41 C359.03,936.43 359.26,936.44 359.48,936.45 C359.71,936.46 359.94,936.47 360.17,936.47 C360.39,936.48 360.62,936.48 360.85,936.49 C361.08,936.49 361.31,936.49 361.53,936.49 C361.76,936.50 361.99,936.50 362.22,936.50 C362.44,936.50 362.67,936.50 362.90,936.50 C363.13,936.50 363.36,936.50 363.58,936.50 C363.81,936.50 364.04,936.50 364.27,936.50 C364.49,936.50 364.72,936.50 364.95,936.50 C365.18,936.50 365.41,936.50 365.63,936.50 C365.86,936.50 366.09,936.50 366.32,936.50 C366.54,936.50 366.89,936.50 367.00,936.50" fill="none" stroke="#e5a03c" stroke-width="1.2" stroke-linejoin="round" />
<path d="M285.00,936.50 C285.11,936.50 285.46,936.50 285.68,936.50 C285.91,936.50 286.14,936.50 286.37,936.50 C286.59,936.50 286.82,936.50 287.05,936.50 C287.28,936.50 287.51,936.50 287.73,936.50 C287.96,936.50 288.19,936.50 288.42,936.50 C288.64,936.50 288.87,936.50 289.10,936.50 C289.33,936.50 289.56,936.50 289.78,936.50 C290.01,936.50 290.24,936.50 290.47,936.50 C290.69,936.50 290.92,936.50 291.15,936.50 C291.38,936.50 291.61,936.50 291.83,936.50 C292.06,936.50 292.29,936.50 292.52,936.50 C292.74,936.50 292.97,936.50 293.20,936.50 C293.43,936.50 293.66,936.50 293.88,936.50 C294.11,936.50 294.34,936.50 294.57,936.50 C294.79,936.50 295.02,936.50 295.25,936.50 C295.48,936.50 295.71,936.50 295.93,936.50 C296.16,936.50 296.39,936.50 296.62,936.50 C296.84,936.50 297.07,936.50 297.30,936.50 C297.53,936.50 297.76,936.50 297.98,936.50 C298.21,936.50 298.44,936.50 298.67,936.50 C298.89,936.50 299.12,936.50 299.35,936.50 C299.58,936.50 299.81,936.50 300.03,936.50 C300.26,936.50 300.49,936.50 300.72,936.50 C300.94,936.50 301.17,936.50 301.40,936.50 C301.63,936.50 301.86,936.50 302.08,936.50 C302.31,936.50 302.54,936.50 302.77,936.49 C302.99,936.49 303.22,936.49 303.45,936.49 C303.68,936.49 303.91,936.48 304.13,936.48 C304.36,936.47 304.59,936.47 304.82,936.46 C305.04,936.45 305.27,936.44 305.50,936.42 C305.73,936.40 305.96,936.39 306.18,936.36 C306.41,936.33 306.64,936.30 306.87,936.26 C307.09,936.22 307.32,936.18 307.55,936.11 C307.78,936.05 308.01,935.98 308.23,935.89 C308.46,935.80 308.69,935.70 308.92,935.58 C309.14,935.45 309.37,935.31 309.60,935.15 C309.83,934.98 310.06,934.80 310.28,934.59 C310.51,934.38 310.74,934.14 310.97,933.89 C311.19,933.64 311.42,933.36 311.65,933.07 C311.88,932.78 312.11,932.46 312.33,932.15 C312.56,931.83 312.79,931.50 313.02,931.18 C313.24,930.85 313.47,930.52 313.70,930.21 C313.93,929.91 314.16,929.60 314.38,929.34 C314.61,929.07 314.84,928.82 315.07,928.62 C315.29,928.42 315.52,928.25 315.75,928.14 C315.98,928.02 316.21,927.94 316.43,927.91 C316.66,927.88 316.89,927.90 317.12,927.95 C317.34,928.01 317.57,928.11 317.80,928.24 C318.03,928.36 318.26,928.53 318.48,928.69 C318.71,928.85 318.94,929.05 319.17,929.22 C319.39,929.39 319.62,929.58 319.85,929.72 C320.08,929.87 320.31,930.01 320.53,930.10 C320.76,930.19 320.99,930.25 321.22,930.27 C321.44,930.29 321.67,930.26 321.90,930.20 C322.13,930.14 322.36,930.03 322.58,929.90 C322.81,929.77 323.04,929.59 323.27,929.42 C323.49,929.24 323.72,929.04 323.95,928.85 C324.18,928.66 324.41,928.46 324.63,928.28 C324.86,928.11 325.09,927.94 325.32,927.81 C325.54,927.67 325.77,927.56 326.00,927.46 C326.23,927.36 326.46,927.30 326.68,927.22 C326.91,927.14 327.14,927.10 327.37,926.99 C327.59,926.89 327.82,926.80 328.05,926.61 C328.28,926.42 328.51,926.20 328.73,925.84 C328.96,925.48 329.19,925.06 329.42,924.45 C329.64,923.84 329.87,923.12 330.10,922.19 C330.33,921.26 330.56,920.18 330.78,918.88 C331.01,917.57 331.24,916.08 331.47,914.39 C331.69,912.70 331.92,910.79 332.15,908.73 C332.38,906.67 332.61,904.40 332.83,902.04 C333.06,899.68 333.29,897.12 333.52,894.58 C333.74,892.03 333.97,889.34 334.20,886.76 C334.43,884.18 334.66,881.53 334.88,879.10 C335.11,876.66 335.34,874.26 335.57,872.16 C335.79,870.06 336.02,868.09 336.25,866.50 C336.48,864.91 336.71,863.56 336.93,862.62 C337.16,861.68 337.39,861.11 337.62,860.87 C337.84,860.64 338.07,860.84 338.30,861.20 C338.53,861.57 338.76,862.21 338.98,863.06 C339.21,863.91 339.44,865.03 339.67,866.31 C339.89,867.60 340.12,869.12 340.35,870.76 C340.58,872.40 340.81,874.25 341.03,876.17 C341.26,878.08 341.49,880.15 341.72,882.24 C341.94,884.32 342.17,886.51 342.40,888.67 C342.63,890.83 342.86,893.05 343.08,895.19 C343.31,897.34 343.54,899.49 343.77,901.54 C343.99,903.59 344.22,905.61 344.45,907.51 C344.68,909.41 344.91,911.23 345.13,912.94 C345.36,914.64 345.59,916.25 345.82,917.73 C346.04,919.22 346.27,920.59 346.50,921.85 C346.73,923.11 346.96,924.26 347.18,925.30 C347.41,926.34 347.64,927.27 347.87,928.11 C348.09,928.94 348.32,929.68 348.55,930.33 C348.78,930.99 349.01,931.56 349.23,932.06 C349.46,932.57 349.69,932.99 349.92,933.37 C350.14,933.75 350.37,934.06 350.60,934.34 C350.83,934.62 351.06,934.84 351.28,935.04 C351.51,935.23 351.74,935.39 351.97,935.53 C352.19,935.67 352.42,935.77 352.65,935.87 C352.88,935.96 353.11,936.03 353.33,936.10 C353.56,936.16 353.79,936.21 354.02,936.25 C354.24,936.29 354.47,936.32 354.70,936.35 C354.93,936.37 355.16,936.39 355.38,936.41 C355.61,936.42 355.84,936.44 356.07,936.45 C356.29,936.46 356.52,936.46 356.75,936.47 C356.98,936.47 357.21,936.48 357.43,936.48 C357.66,936.49 357.89,936.49 358.12,936.49 C358.34,936.49 358.57,936.49 358.80,936.49 C359.03,936.50 359.26,936.50 359.48,936.50 C359.71,936.50 359.94,936.50 360.17,936.50 C360.39,936.50 360.62,936.50 360.85,936.50 C361.08,936.50 361.31,936.50 361.53,936.50 C361.76,936.50 361.99,936.50 362.22,936.50 C362.44,936.50 362.67,936.50 362.90,936.50 C363.13,936.50 363.36,936.50 363.58,936.50 C363.81,936.50 364.04,936.50 364.27,936.50 C364.49,936.50 364.72,936.50 364.95,936.50 C365.18,936.50 365.41,936.50 365.63,936.50 C365.86,936.50 366.09,936.50 366.32,936.50 C366.54,936.50 366.89,936.50 367.00,936.50" fill="none" stroke="#a01848" stroke-width="1.3" stroke-linejoin="round" />
<text x="309.70" y="877.63" font-size="7.3" text-anchor="middle" fill="#a0143c" font-weight="bold" font-style="normal" textLength="33.5" lengthAdjust="spacingAndGlyphs" >control sh</text>
<text x="355.40" y="865.63" font-size="7.3" text-anchor="middle" fill="#6aaad8" font-weight="normal" font-style="normal" stroke="#6aaad8" stroke-width="0.1" textLength="16.2" lengthAdjust="spacingAndGlyphs" >sh#1</text>
<text x="355.40" y="876.63" font-size="7.3" text-anchor="middle" fill="#e5a03c" font-weight="normal" font-style="normal" stroke="#e5a03c" stroke-width="0.1" textLength="16.2" lengthAdjust="spacingAndGlyphs" >sh#2</text>
<line x1="423.70" y1="851.30" x2="423.70" y2="939.10" stroke="#000" stroke-width="1.6" />
<line x1="419.20" y1="938.30" x2="423.70" y2="938.30" stroke="#000" stroke-width="1.3" />
<text x="415.40" y="941.00" font-size="7.5" text-anchor="end" fill="#2a2a2a" font-weight="normal" font-style="normal" stroke="#2a2a2a" stroke-width="0.2" >0</text>
<line x1="419.20" y1="924.40" x2="423.70" y2="924.40" stroke="#000" stroke-width="1.3" />
<text x="415.40" y="927.10" font-size="7.5" text-anchor="end" fill="#2a2a2a" font-weight="normal" font-style="normal" stroke="#2a2a2a" stroke-width="0.2" >0.2</text>
<line x1="419.20" y1="910.50" x2="423.70" y2="910.50" stroke="#000" stroke-width="1.3" />
<text x="415.40" y="913.20" font-size="7.5" text-anchor="end" fill="#2a2a2a" font-weight="normal" font-style="normal" stroke="#2a2a2a" stroke-width="0.2" >0.4</text>
<line x1="419.20" y1="896.60" x2="423.70" y2="896.60" stroke="#000" stroke-width="1.3" />
<text x="415.40" y="899.30" font-size="7.5" text-anchor="end" fill="#2a2a2a" font-weight="normal" font-style="normal" stroke="#2a2a2a" stroke-width="0.2" >0.6</text>
<line x1="419.20" y1="882.70" x2="423.70" y2="882.70" stroke="#000" stroke-width="1.3" />
<text x="415.40" y="885.40" font-size="7.5" text-anchor="end" fill="#2a2a2a" font-weight="normal" font-style="normal" stroke="#2a2a2a" stroke-width="0.2" >0.8</text>
<line x1="419.20" y1="868.80" x2="423.70" y2="868.80" stroke="#000" stroke-width="1.3" />
<text x="415.40" y="871.50" font-size="7.5" text-anchor="end" fill="#2a2a2a" font-weight="normal" font-style="normal" stroke="#2a2a2a" stroke-width="0.2" >1</text>
<line x1="419.20" y1="854.90" x2="423.70" y2="854.90" stroke="#000" stroke-width="1.3" />
<text x="415.40" y="857.60" font-size="7.5" text-anchor="end" fill="#2a2a2a" font-weight="normal" font-style="normal" stroke="#2a2a2a" stroke-width="0.2" >1.2</text>
<line x1="422.90" y1="938.50" x2="506.00" y2="938.50" stroke="#000" stroke-width="1.7" />
<line x1="423.90" y1="938.30" x2="423.90" y2="942.10" stroke="#000" stroke-width="1.3" />
<line x1="450.80" y1="938.30" x2="450.80" y2="942.10" stroke="#000" stroke-width="1.3" />
<line x1="477.50" y1="938.30" x2="477.50" y2="942.10" stroke="#000" stroke-width="1.3" />
<line x1="504.40" y1="938.30" x2="504.40" y2="942.10" stroke="#000" stroke-width="1.3" />
<rect x="430.60" y="868.80" width="13.60" height="69.50" fill="#a80f34" stroke="none" stroke-width="1" />
<text x="437.40" y="953.63" font-size="7.3" text-anchor="middle" fill="#2a2a2a" font-weight="normal" font-style="normal" stroke="#2a2a2a" stroke-width="0.2" >control</text>
<rect x="457.50" y="922.11" width="13.60" height="16.19" fill="#5ba4de" stroke="none" stroke-width="1" />
<text x="464.30" y="953.63" font-size="7.3" text-anchor="middle" fill="#2a2a2a" font-weight="normal" font-style="normal" stroke="#2a2a2a" stroke-width="0.2" >sh#1</text>
<rect x="484.20" y="924.05" width="13.60" height="14.25" fill="#e6961e" stroke="none" stroke-width="1" />
<text x="491.00" y="953.63" font-size="7.3" text-anchor="middle" fill="#2a2a2a" font-weight="normal" font-style="normal" stroke="#2a2a2a" stroke-width="0.2" >sh#2</text>
<text transform="translate(394.7 894.3) rotate(-90)" font-size="9.8" text-anchor="middle" fill="#2a2a2a" stroke="#2a2a2a" stroke-width="0.35" textLength="94.6" lengthAdjust="spacingAndGlyphs">Relative <tspan font-style="italic" font-weight="bold" stroke-width="0">RUNX1a</tspan> expression</text>
</svg>
</body></html>
